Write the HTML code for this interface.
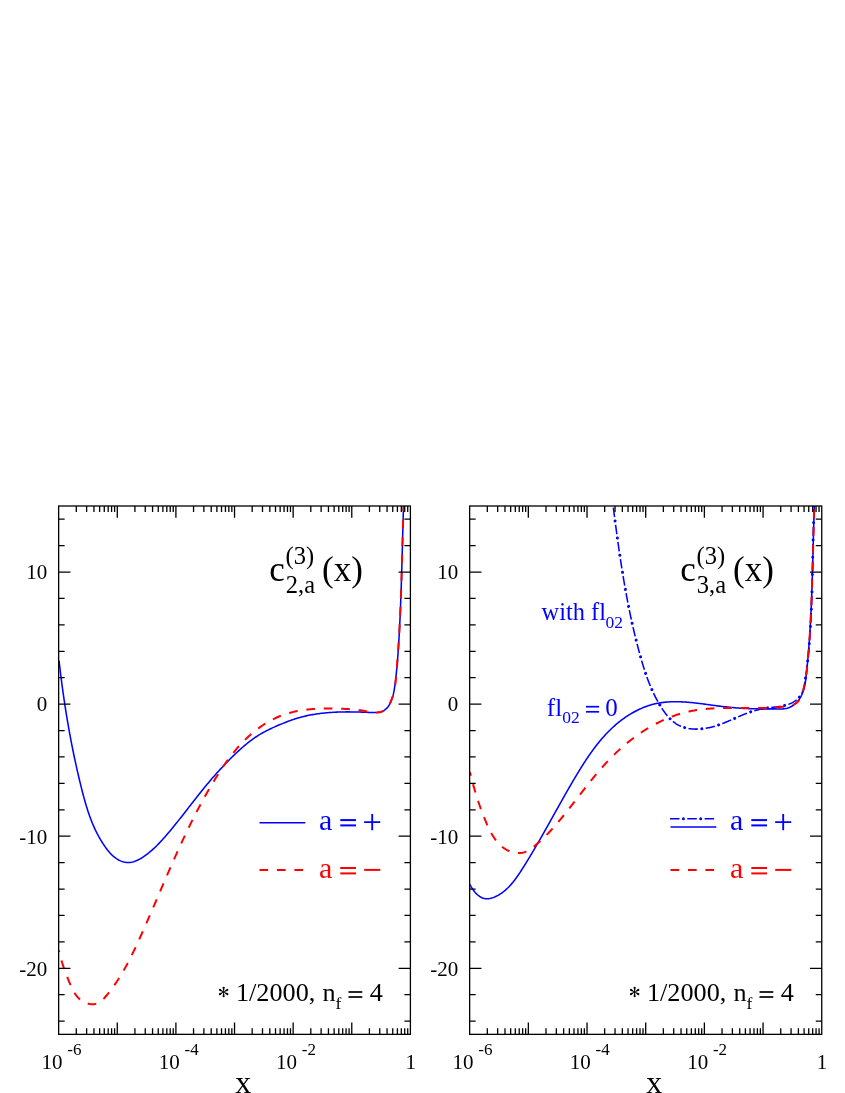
<!DOCTYPE html>
<html><head><meta charset="utf-8"><title>chart</title>
<style>html,body{margin:0;padding:0;background:#fff;}body{width:845px;height:1093px;overflow:hidden;font-family:"Liberation Serif",serif;}svg{display:block;will-change:transform;}</style>
</head><body>
<svg width="845" height="1093" viewBox="0 0 845 1093" font-family="'Liberation Serif', serif" fill="#000"><defs><clipPath id="c1"><rect x="58.65" y="506.0" width="351.75" height="528.35"/></clipPath><clipPath id="c2"><rect x="469.65" y="506.0" width="352.10" height="528.35"/></clipPath></defs><g clip-path="url(#c1)"><path d="M59.07,660.71 L59.21,661.97 L59.35,663.22 L59.50,664.48 L59.64,665.73 L59.79,666.99 L59.94,668.24 L60.09,669.50 L60.24,670.75 L60.39,672.01 L60.54,673.26 L60.70,674.52 L60.85,675.77 L61.01,677.03 L61.17,678.28 L61.33,679.54 L61.49,680.79 L61.65,682.05 L61.82,683.30 L61.98,684.55 L62.15,685.81 L62.32,687.06 L62.49,688.32 L62.66,689.57 L62.84,690.83 L63.01,692.08 L63.19,693.33 L63.37,694.59 L63.55,695.84 L63.73,697.09 L63.91,698.35 L64.09,699.60 L64.28,700.85 L64.47,702.10 L64.65,703.36 L64.84,704.61 L65.04,705.86 L65.23,707.11 L65.42,708.36 L65.62,709.62 L65.82,710.87 L66.02,712.12 L66.22,713.37 L66.42,714.62 L66.63,715.87 L66.83,717.12 L67.04,718.37 L67.25,719.62 L67.46,720.87 L67.67,722.12 L67.89,723.37 L68.10,724.62 L68.32,725.87 L68.54,727.11 L68.76,728.36 L68.98,729.61 L69.20,730.86 L69.43,732.10 L69.66,733.35 L69.89,734.60 L70.12,735.84 L70.35,737.09 L70.58,738.34 L70.82,739.58 L71.05,740.83 L71.29,742.07 L71.53,743.32 L71.78,744.56 L72.02,745.80 L72.27,747.05 L72.52,748.29 L72.76,749.53 L73.02,750.77 L73.27,752.02 L73.52,753.26 L73.78,754.50 L74.04,755.74 L74.30,756.98 L74.56,758.22 L74.82,759.46 L75.09,760.70 L75.36,761.94 L75.63,763.17 L75.90,764.41 L76.17,765.65 L76.44,766.89 L76.72,768.12 L77.00,769.36 L77.28,770.59 L77.56,771.83 L77.84,773.06 L78.13,774.30 L78.42,775.53 L78.71,776.76 L79.00,778.00 L79.29,779.23 L79.59,780.46 L79.88,781.69 L80.18,782.92 L80.48,784.15 L80.78,785.38 L81.09,786.61 L81.40,787.84 L81.70,789.07 L82.01,790.30 L82.33,791.52 L82.64,792.75 L82.96,793.97 L83.28,795.20 L83.61,796.42 L83.94,797.64 L84.27,798.86 L84.61,800.08 L84.95,801.30 L85.30,802.51 L85.65,803.72 L86.01,804.94 L86.37,806.14 L86.74,807.35 L87.12,808.56 L87.50,809.76 L87.89,810.96 L88.29,812.16 L88.69,813.35 L89.10,814.54 L89.52,815.73 L89.95,816.92 L90.38,818.10 L90.83,819.28 L91.28,820.46 L91.74,821.63 L92.21,822.80 L92.70,823.96 L93.19,825.12 L93.69,826.28 L94.20,827.43 L94.73,828.58 L95.26,829.73 L95.81,830.87 L96.36,832.01 L96.93,833.14 L97.52,834.26 L98.11,835.39 L98.72,836.50 L99.34,837.62 L99.97,838.72 L100.62,839.83 L101.28,840.92 L101.95,842.01 L102.64,843.10 L103.35,844.18 L104.07,845.25 L104.80,846.32 L105.55,847.38 L106.32,848.43 L107.10,849.47 L107.91,850.50 L108.73,851.50 L109.57,852.48 L110.44,853.44 L111.33,854.36 L112.24,855.26 L113.18,856.12 L114.14,856.94 L115.13,857.73 L116.15,858.46 L117.20,859.15 L118.28,859.79 L119.39,860.38 L120.53,860.91 L121.69,861.37 L122.88,861.77 L124.08,862.09 L125.29,862.34 L126.51,862.50 L127.73,862.57 L128.94,862.55 L130.15,862.45 L131.36,862.26 L132.56,862.00 L133.75,861.67 L134.93,861.27 L136.11,860.81 L137.27,860.30 L138.43,859.74 L139.57,859.13 L140.70,858.49 L141.81,857.81 L142.91,857.11 L144.00,856.38 L145.06,855.64 L146.11,854.88 L147.15,854.10 L148.16,853.31 L149.17,852.51 L150.16,851.70 L151.13,850.87 L152.09,850.04 L153.04,849.19 L153.98,848.33 L154.90,847.46 L155.81,846.58 L156.72,845.70 L157.61,844.80 L158.50,843.90 L159.37,842.99 L160.24,842.07 L161.10,841.15 L161.96,840.22 L162.80,839.28 L163.65,838.34 L164.48,837.40 L165.32,836.45 L166.15,835.50 L166.97,834.54 L167.79,833.58 L168.61,832.62 L169.42,831.66 L170.24,830.69 L171.04,829.72 L171.85,828.74 L172.65,827.77 L173.45,826.79 L174.25,825.81 L175.04,824.83 L175.84,823.84 L176.63,822.86 L177.41,821.87 L178.20,820.88 L178.98,819.89 L179.77,818.89 L180.55,817.90 L181.33,816.90 L182.11,815.91 L182.89,814.91 L183.66,813.91 L184.44,812.91 L185.22,811.91 L185.99,810.91 L186.77,809.91 L187.54,808.91 L188.32,807.90 L189.09,806.90 L189.87,805.90 L190.65,804.90 L191.42,803.90 L192.20,802.90 L192.98,801.90 L193.76,800.90 L194.54,799.90 L195.32,798.90 L196.10,797.90 L196.89,796.90 L197.67,795.91 L198.46,794.92 L199.25,793.92 L200.04,792.93 L200.84,791.94 L201.63,790.96 L202.43,789.97 L203.24,788.99 L204.04,788.01 L204.85,787.03 L205.65,786.05 L206.46,785.07 L207.28,784.10 L208.09,783.13 L208.91,782.16 L209.73,781.19 L210.56,780.22 L211.38,779.26 L212.21,778.30 L213.05,777.34 L213.88,776.39 L214.72,775.44 L215.56,774.49 L216.40,773.54 L217.25,772.60 L218.10,771.66 L218.95,770.72 L219.80,769.78 L220.66,768.85 L221.52,767.92 L222.39,766.99 L223.25,766.07 L224.12,765.15 L225.00,764.23 L225.88,763.32 L226.76,762.41 L227.64,761.50 L228.53,760.60 L229.42,759.70 L230.31,758.80 L231.21,757.91 L232.11,757.02 L233.01,756.14 L233.92,755.25 L234.83,754.38 L235.74,753.50 L236.66,752.64 L237.59,751.77 L238.51,750.91 L239.45,750.06 L240.38,749.22 L241.33,748.38 L242.28,747.54 L243.23,746.72 L244.19,745.90 L245.16,745.09 L246.13,744.28 L247.11,743.49 L248.09,742.70 L249.08,741.92 L250.08,741.15 L251.09,740.40 L252.11,739.65 L253.13,738.91 L254.16,738.18 L255.20,737.46 L256.25,736.76 L257.30,736.07 L258.37,735.38 L259.44,734.71 L260.53,734.06 L261.62,733.41 L262.73,732.78 L263.84,732.17 L264.96,731.56 L266.09,730.97 L267.23,730.39 L268.38,729.82 L269.53,729.26 L270.68,728.71 L271.84,728.16 L273.00,727.63 L274.17,727.11 L275.33,726.59 L276.50,726.08 L277.67,725.58 L278.84,725.08 L280.01,724.58 L281.18,724.10 L282.34,723.62 L283.51,723.14 L284.67,722.67 L285.84,722.21 L287.01,721.75 L288.18,721.31 L289.35,720.87 L290.52,720.44 L291.70,720.02 L292.88,719.61 L294.07,719.21 L295.26,718.82 L296.45,718.44 L297.65,718.08 L298.86,717.73 L300.07,717.39 L301.29,717.06 L302.52,716.74 L303.75,716.44 L304.98,716.15 L306.22,715.87 L307.46,715.60 L308.71,715.34 L309.96,715.09 L311.22,714.86 L312.48,714.63 L313.74,714.42 L315.00,714.22 L316.27,714.02 L317.53,713.84 L318.80,713.66 L320.07,713.50 L321.35,713.34 L322.62,713.20 L323.89,713.06 L325.16,712.93 L326.44,712.81 L327.71,712.70 L328.98,712.59 L330.25,712.50 L331.51,712.41 L332.78,712.33 L334.04,712.26 L335.31,712.19 L336.57,712.13 L337.82,712.08 L339.07,712.04 L340.33,712.00 L341.58,711.97 L342.82,711.94 L344.07,711.92 L345.32,711.90 L346.56,711.89 L347.81,711.89 L349.06,711.89 L350.31,711.90 L351.56,711.91 L352.81,711.92 L354.07,711.94 L355.33,711.96 L356.59,711.99 L357.85,712.02 L359.12,712.05 L360.40,712.09 L361.68,712.13 L362.96,712.17 L364.25,712.21 L365.55,712.26 L366.85,712.31 L368.16,712.36 L369.48,712.41 L370.80,712.46 L372.11,712.49 L373.43,712.50 L374.73,712.48 L376.01,712.43 L377.27,712.33 L378.51,712.17 L379.71,711.96 L380.88,711.67 L382.01,711.31 L383.09,710.87 L384.12,710.33 L385.10,709.69 L386.02,708.94 L386.88,708.10 L387.68,707.18 L388.43,706.19 L389.13,705.13 L389.77,704.03 L390.37,702.89 L390.91,701.73 L391.41,700.55 L391.87,699.35 L392.28,698.14 L392.66,696.92 L393.00,695.69 L393.31,694.45 L393.59,693.20 L393.85,691.94 L394.09,690.67 L394.30,689.41 L394.50,688.13 L394.68,686.86 L394.86,685.58 L395.03,684.31 L395.19,683.03 L395.35,681.76 L395.50,680.48 L395.65,679.21 L395.80,677.94 L395.94,676.67 L396.08,675.40 L396.22,674.13 L396.35,672.86 L396.48,671.60 L396.61,670.33 L396.73,669.07 L396.85,667.80 L396.97,666.54 L397.08,665.28 L397.19,664.02 L397.30,662.76 L397.41,661.49 L397.51,660.23 L397.61,658.97 L397.71,657.71 L397.81,656.46 L397.90,655.20 L398.00,653.94 L398.09,652.68 L398.17,651.42 L398.26,650.16 L398.35,648.90 L398.43,647.65 L398.51,646.39 L398.59,645.13 L398.67,643.87 L398.74,642.61 L398.82,641.36 L398.89,640.10 L398.97,638.84 L399.04,637.58 L399.11,636.32 L399.18,635.06 L399.25,633.80 L399.32,632.54 L399.38,631.28 L399.45,630.02 L399.52,628.75 L399.58,627.49 L399.64,626.23 L399.70,624.97 L399.77,623.71 L399.83,622.44 L399.89,621.18 L399.95,619.92 L400.00,618.65 L400.06,617.39 L400.12,616.13 L400.17,614.86 L400.23,613.60 L400.28,612.33 L400.33,611.07 L400.39,609.81 L400.44,608.54 L400.49,607.28 L400.54,606.01 L400.59,604.74 L400.64,603.48 L400.69,602.21 L400.74,600.95 L400.78,599.68 L400.83,598.41 L400.88,597.15 L400.92,595.88 L400.97,594.61 L401.01,593.35 L401.05,592.08 L401.10,590.81 L401.14,589.55 L401.18,588.28 L401.22,587.01 L401.26,585.74 L401.31,584.48 L401.35,583.21 L401.39,581.94 L401.43,580.67 L401.46,579.40 L401.50,578.14 L401.54,576.87 L401.58,575.60 L401.62,574.33 L401.65,573.06 L401.69,571.79 L401.73,570.53 L401.77,569.26 L401.80,567.99 L401.84,566.72 L401.87,565.45 L401.91,564.18 L401.94,562.92 L401.98,561.65 L402.01,560.38 L402.05,559.11 L402.08,557.84 L402.12,556.57 L402.15,555.30 L402.19,554.04 L402.22,552.77 L402.26,551.50 L402.29,550.23 L402.32,548.96 L402.36,547.69 L402.39,546.43 L402.43,545.16 L402.46,543.89 L402.49,542.62 L402.53,541.36 L402.56,540.09 L402.60,538.82 L402.63,537.55 L402.67,536.28 L402.70,535.02 L402.73,533.75 L402.77,532.48 L402.80,531.22 L402.84,529.95 L402.87,528.68 L402.91,527.42 L402.95,526.15 L402.98,524.88 L403.02,523.62 L403.05,522.35 L403.09,521.09 L403.13,519.82 L403.16,518.55 L403.20,517.29 L403.24,516.02 L403.28,514.76 L403.32,513.49 L403.36,512.23 L403.40,510.97 L403.43,509.70 L403.47,508.44 L403.52,507.17 L403.56,505.91 L403.60,504.65 L403.64,503.38 L403.68,502.12 L403.72,500.86 L403.77,499.60 L403.81,498.34 L403.86,497.07 L403.90,495.81 L403.95,494.55 L403.99,493.29 L404.04,492.03" stroke="#0000ff" stroke-width="1.55" fill="none"/><path d="M59.00,950.38 L59.26,951.67 L59.53,952.94 L59.81,954.19 L60.11,955.42 L60.41,956.64 L60.73,957.85 L61.05,959.04 L61.39,960.23 L61.73,961.40 L62.08,962.57 L62.45,963.73 L62.82,964.88 L63.20,966.02 L63.59,967.17 L63.99,968.31 L64.40,969.45 L64.82,970.59 L65.24,971.73 L65.67,972.88 L66.11,974.03 L66.55,975.18 L67.00,976.34 L67.46,977.51 L67.92,978.68 L68.39,979.87 L68.87,981.07 L69.36,982.27 L69.85,983.47 L70.36,984.67 L70.89,985.87 L71.43,987.06 L71.99,988.24 L72.57,989.40 L73.17,990.54 L73.80,991.66 L74.45,992.76 L75.13,993.83 L75.85,994.86 L76.59,995.86 L77.37,996.82 L78.19,997.74 L79.05,998.61 L79.94,999.43 L80.88,1000.20 L81.86,1000.92 L82.89,1001.57 L83.97,1002.16 L85.09,1002.68 L86.25,1003.14 L87.45,1003.52 L88.66,1003.82 L89.89,1004.04 L91.13,1004.18 L92.36,1004.23 L93.59,1004.18 L94.80,1004.05 L95.99,1003.81 L97.14,1003.47 L98.25,1003.03 L99.31,1002.48 L100.33,1001.82 L101.30,1001.07 L102.23,1000.25 L103.13,999.37 L104.00,998.44 L104.85,997.47 L105.68,996.49 L106.50,995.51 L107.32,994.52 L108.12,993.53 L108.91,992.53 L109.69,991.52 L110.47,990.52 L111.23,989.51 L111.99,988.49 L112.73,987.47 L113.47,986.45 L114.20,985.42 L114.92,984.38 L115.63,983.35 L116.33,982.31 L117.03,981.27 L117.71,980.22 L118.39,979.17 L119.06,978.11 L119.73,977.06 L120.39,975.99 L121.04,974.93 L121.68,973.86 L122.31,972.79 L122.94,971.72 L123.57,970.64 L124.19,969.56 L124.80,968.48 L125.40,967.39 L126.00,966.30 L126.60,965.21 L127.18,964.12 L127.77,963.02 L128.35,961.92 L128.92,960.82 L129.49,959.72 L130.05,958.61 L130.62,957.51 L131.17,956.40 L131.72,955.29 L132.27,954.17 L132.82,953.06 L133.36,951.94 L133.90,950.82 L134.43,949.70 L134.96,948.58 L135.49,947.45 L136.02,946.33 L136.54,945.20 L137.06,944.07 L137.58,942.94 L138.10,941.81 L138.62,940.68 L139.13,939.55 L139.64,938.42 L140.16,937.28 L140.67,936.15 L141.17,935.01 L141.68,933.87 L142.19,932.74 L142.70,931.60 L143.20,930.46 L143.71,929.32 L144.21,928.18 L144.72,927.04 L145.22,925.90 L145.72,924.76 L146.22,923.62 L146.72,922.47 L147.22,921.33 L147.72,920.19 L148.22,919.04 L148.72,917.90 L149.21,916.75 L149.71,915.61 L150.21,914.46 L150.70,913.32 L151.20,912.17 L151.69,911.02 L152.19,909.88 L152.68,908.73 L153.17,907.58 L153.67,906.44 L154.16,905.29 L154.65,904.14 L155.15,902.99 L155.64,901.85 L156.13,900.70 L156.62,899.55 L157.12,898.40 L157.61,897.25 L158.10,896.11 L158.59,894.96 L159.08,893.81 L159.57,892.66 L160.07,891.51 L160.56,890.37 L161.05,889.22 L161.54,888.07 L162.03,886.92 L162.53,885.78 L163.02,884.63 L163.51,883.48 L164.00,882.34 L164.50,881.19 L164.99,880.05 L165.49,878.90 L165.98,877.75 L166.47,876.61 L166.97,875.47 L167.47,874.32 L167.96,873.18 L168.46,872.03 L168.96,870.89 L169.45,869.75 L169.95,868.60 L170.45,867.46 L170.95,866.32 L171.45,865.18 L171.96,864.04 L172.46,862.90 L172.96,861.76 L173.47,860.62 L173.97,859.48 L174.48,858.34 L174.98,857.20 L175.49,856.06 L176.00,854.93 L176.51,853.79 L177.02,852.66 L177.53,851.52 L178.05,850.39 L178.56,849.25 L179.08,848.12 L179.59,846.99 L180.11,845.85 L180.63,844.72 L181.15,843.59 L181.68,842.46 L182.20,841.33 L182.72,840.20 L183.25,839.08 L183.78,837.95 L184.31,836.82 L184.84,835.70 L185.37,834.57 L185.91,833.45 L186.44,832.33 L186.98,831.20 L187.52,830.08 L188.06,828.96 L188.61,827.84 L189.15,826.72 L189.70,825.61 L190.24,824.49 L190.80,823.37 L191.35,822.26 L191.90,821.15 L192.46,820.03 L193.02,818.92 L193.58,817.81 L194.14,816.70 L194.70,815.59 L195.27,814.48 L195.84,813.38 L196.41,812.27 L196.98,811.17 L197.56,810.06 L198.14,808.96 L198.72,807.86 L199.30,806.76 L199.89,805.66 L200.47,804.56 L201.06,803.47 L201.66,802.37 L202.25,801.28 L202.85,800.18 L203.45,799.09 L204.05,798.00 L204.66,796.91 L205.26,795.82 L205.87,794.74 L206.49,793.65 L207.10,792.57 L207.72,791.49 L208.35,790.40 L208.97,789.33 L209.60,788.25 L210.23,787.17 L210.86,786.09 L211.50,785.02 L212.14,783.95 L212.78,782.88 L213.43,781.81 L214.08,780.74 L214.73,779.67 L215.38,778.61 L216.04,777.54 L216.70,776.48 L217.37,775.42 L218.04,774.37 L218.71,773.31 L219.39,772.26 L220.07,771.21 L220.76,770.16 L221.45,769.12 L222.15,768.08 L222.85,767.05 L223.55,766.01 L224.26,764.98 L224.98,763.96 L225.70,762.94 L226.42,761.92 L227.15,760.91 L227.89,759.90 L228.63,758.89 L229.38,757.90 L230.13,756.90 L230.89,755.91 L231.66,754.93 L232.43,753.95 L233.21,752.98 L233.99,752.01 L234.79,751.05 L235.58,750.09 L236.39,749.14 L237.20,748.20 L238.02,747.26 L238.85,746.33 L239.68,745.40 L240.53,744.49 L241.37,743.58 L242.23,742.67 L243.10,741.78 L243.97,740.89 L244.85,740.01 L245.74,739.14 L246.64,738.27 L247.55,737.42 L248.46,736.57 L249.38,735.73 L250.32,734.90 L251.26,734.07 L252.21,733.26 L253.16,732.46 L254.13,731.66 L255.10,730.88 L256.08,730.11 L257.07,729.35 L258.07,728.59 L259.07,727.85 L260.08,727.13 L261.11,726.41 L262.13,725.71 L263.17,725.01 L264.21,724.33 L265.26,723.67 L266.32,723.01 L267.38,722.37 L268.46,721.75 L269.54,721.13 L270.62,720.54 L271.72,719.95 L272.82,719.38 L273.92,718.83 L275.04,718.29 L276.16,717.77 L277.29,717.26 L278.42,716.77 L279.56,716.29 L280.71,715.83 L281.86,715.39 L283.02,714.97 L284.19,714.56 L285.36,714.17 L286.54,713.79 L287.72,713.44 L288.91,713.09 L290.11,712.76 L291.31,712.45 L292.51,712.15 L293.72,711.87 L294.93,711.59 L296.15,711.34 L297.37,711.09 L298.60,710.86 L299.82,710.65 L301.06,710.44 L302.29,710.25 L303.53,710.07 L304.77,709.90 L306.01,709.74 L307.26,709.59 L308.51,709.46 L309.76,709.33 L311.01,709.22 L312.26,709.11 L313.52,709.02 L314.77,708.93 L316.03,708.85 L317.29,708.78 L318.55,708.72 L319.81,708.67 L321.07,708.63 L322.33,708.59 L323.59,708.56 L324.84,708.54 L326.10,708.52 L327.36,708.51 L328.62,708.51 L329.87,708.51 L331.13,708.52 L332.38,708.53 L333.63,708.55 L334.88,708.57 L336.13,708.60 L337.38,708.63 L338.62,708.66 L339.86,708.70 L341.10,708.74 L342.33,708.78 L343.56,708.83 L344.79,708.88 L346.02,708.93 L347.24,708.99 L348.47,709.06 L349.69,709.14 L350.91,709.22 L352.13,709.32 L353.35,709.42 L354.57,709.54 L355.80,709.67 L357.02,709.82 L358.25,709.98 L359.48,710.16 L360.71,710.35 L361.95,710.57 L363.19,710.80 L364.43,711.05 L365.68,711.30 L366.93,711.56 L368.18,711.80 L369.44,712.03 L370.70,712.23 L371.96,712.40 L373.22,712.53 L374.49,712.62 L375.76,712.64 L377.04,712.61 L378.31,712.50 L379.57,712.31 L380.80,712.03 L381.99,711.65 L383.12,711.17 L384.17,710.58 L385.14,709.87 L386.02,709.03 L386.80,708.10 L387.53,707.10 L388.20,706.06 L388.84,705.01 L389.44,703.94 L390.00,702.85 L390.54,701.75 L391.03,700.64 L391.50,699.51 L391.94,698.37 L392.35,697.22 L392.74,696.06 L393.09,694.88 L393.43,693.70 L393.73,692.50 L394.02,691.30 L394.29,690.09 L394.53,688.87 L394.76,687.64" stroke="#ff0000" stroke-width="2" fill="none" stroke-dasharray="8.7 8.75" stroke-dashoffset="7.0"/><path d="M394.76,687.64 L394.97,686.41 L395.16,685.17 L395.34,683.93 L395.51,682.68 L395.66,681.43 L395.80,680.17 L395.94,678.91 L396.06,677.65 L396.18,676.39 L396.29,675.13 L396.40,673.86 L396.50,672.60 L396.60,671.33 L396.70,670.07 L396.80,668.81 L396.90,667.55 L396.99,666.30 L397.09,665.04 L397.18,663.79 L397.28,662.53 L397.37,661.28 L397.46,660.03 L397.55,658.78 L397.64,657.53 L397.73,656.28 L397.82,655.03 L397.91,653.79 L397.99,652.54 L398.08,651.30 L398.16,650.05 L398.25,648.81 L398.33,647.57 L398.41,646.32 L398.49,645.08 L398.57,643.84 L398.65,642.60 L398.73,641.36 L398.81,640.12 L398.88,638.88 L398.96,637.65 L399.03,636.41 L399.10,635.17 L399.18,633.93 L399.25,632.69 L399.32,631.46 L399.39,630.22 L399.45,628.98 L399.52,627.75 L399.59,626.51 L399.65,625.27 L399.72,624.03 L399.78,622.80 L399.84,621.56 L399.91,620.32 L399.97,619.08 L400.03,617.84 L400.09,616.60 L400.14,615.36 L400.20,614.12 L400.26,612.88 L400.31,611.64 L400.37,610.40 L400.42,609.16 L400.47,607.92 L400.53,606.68 L400.58,605.43 L400.63,604.19 L400.68,602.95 L400.73,601.71 L400.77,600.46 L400.82,599.22 L400.87,597.97 L400.91,596.73 L400.96,595.48 L401.00,594.24 L401.05,592.99 L401.09,591.75 L401.13,590.50 L401.18,589.26 L401.22,588.01 L401.26,586.76 L401.30,585.52 L401.34,584.27 L401.38,583.02 L401.42,581.77 L401.46,580.53 L401.49,579.28 L401.53,578.03 L401.57,576.78 L401.61,575.54 L401.64,574.29 L401.68,573.04 L401.71,571.79 L401.75,570.54 L401.78,569.29 L401.82,568.04 L401.85,566.80 L401.89,565.55 L401.92,564.30 L401.96,563.05 L401.99,561.80 L402.02,560.55 L402.06,559.30 L402.09,558.05 L402.12,556.80 L402.16,555.55 L402.19,554.30 L402.22,553.05 L402.25,551.81 L402.29,550.56 L402.32,549.31 L402.35,548.06 L402.38,546.81 L402.42,545.56 L402.45,544.31 L402.48,543.06 L402.51,541.81 L402.54,540.57 L402.58,539.32 L402.61,538.07 L402.64,536.82 L402.68,535.57 L402.71,534.32 L402.74,533.08 L402.78,531.83 L402.81,530.58 L402.84,529.33 L402.88,528.09 L402.91,526.84 L402.95,525.59 L402.98,524.35 L403.02,523.10 L403.05,521.85 L403.09,520.61 L403.13,519.36 L403.16,518.12 L403.20,516.87 L403.24,515.63 L403.27,514.38 L403.31,513.14 L403.35,511.89 L403.39,510.65 L403.43,509.41 L403.47,508.16 L403.51,506.92 L403.55,505.68 L403.60,504.44 L403.64,503.19 L403.68,501.95 L403.72,500.71 L403.77,499.47 L403.81,498.23 L403.86,496.99 L403.91,495.75 L403.95,494.51 L404.00,493.27 L404.05,492.03" stroke="#ff0000" stroke-width="2" fill="none" stroke-dasharray="8.7 8.75" stroke-dashoffset="15.04"/></g><rect x="58.65" y="506.0" width="351.75" height="528.35" fill="none" stroke="#000" stroke-width="1.3"/><path d="M76.30,506.0 v6.0 M76.30,1034.35 v-6.0 M86.62,506.0 v6.0 M86.62,1034.35 v-6.0 M93.95,506.0 v6.0 M93.95,1034.35 v-6.0 M99.63,506.0 v6.0 M99.63,1034.35 v-6.0 M104.27,506.0 v6.0 M104.27,1034.35 v-6.0 M108.19,506.0 v6.0 M108.19,1034.35 v-6.0 M111.59,506.0 v6.0 M111.59,1034.35 v-6.0 M114.59,506.0 v6.0 M114.59,1034.35 v-6.0 M117.28,506.0 v11.8 M117.28,1034.35 v-11.8 M134.92,506.0 v6.0 M134.92,1034.35 v-6.0 M145.25,506.0 v6.0 M145.25,1034.35 v-6.0 M152.57,506.0 v6.0 M152.57,1034.35 v-6.0 M158.25,506.0 v6.0 M158.25,1034.35 v-6.0 M162.89,506.0 v6.0 M162.89,1034.35 v-6.0 M166.82,506.0 v6.0 M166.82,1034.35 v-6.0 M170.22,506.0 v6.0 M170.22,1034.35 v-6.0 M173.22,506.0 v6.0 M173.22,1034.35 v-6.0 M175.90,506.0 v11.8 M175.90,1034.35 v-11.8 M193.55,506.0 v6.0 M193.55,1034.35 v-6.0 M203.87,506.0 v6.0 M203.87,1034.35 v-6.0 M211.20,506.0 v6.0 M211.20,1034.35 v-6.0 M216.88,506.0 v6.0 M216.88,1034.35 v-6.0 M221.52,506.0 v6.0 M221.52,1034.35 v-6.0 M225.44,506.0 v6.0 M225.44,1034.35 v-6.0 M228.84,506.0 v6.0 M228.84,1034.35 v-6.0 M231.84,506.0 v6.0 M231.84,1034.35 v-6.0 M234.53,506.0 v11.8 M234.53,1034.35 v-11.8 M252.17,506.0 v6.0 M252.17,1034.35 v-6.0 M262.50,506.0 v6.0 M262.50,1034.35 v-6.0 M269.82,506.0 v6.0 M269.82,1034.35 v-6.0 M275.50,506.0 v6.0 M275.50,1034.35 v-6.0 M280.14,506.0 v6.0 M280.14,1034.35 v-6.0 M284.07,506.0 v6.0 M284.07,1034.35 v-6.0 M287.47,506.0 v6.0 M287.47,1034.35 v-6.0 M290.47,506.0 v6.0 M290.47,1034.35 v-6.0 M293.15,506.0 v11.8 M293.15,1034.35 v-11.8 M310.80,506.0 v6.0 M310.80,1034.35 v-6.0 M321.12,506.0 v6.0 M321.12,1034.35 v-6.0 M328.45,506.0 v6.0 M328.45,1034.35 v-6.0 M334.13,506.0 v6.0 M334.13,1034.35 v-6.0 M338.77,506.0 v6.0 M338.77,1034.35 v-6.0 M342.69,506.0 v6.0 M342.69,1034.35 v-6.0 M346.09,506.0 v6.0 M346.09,1034.35 v-6.0 M349.09,506.0 v6.0 M349.09,1034.35 v-6.0 M351.77,506.0 v11.8 M351.77,1034.35 v-11.8 M369.42,506.0 v6.0 M369.42,1034.35 v-6.0 M379.75,506.0 v6.0 M379.75,1034.35 v-6.0 M387.07,506.0 v6.0 M387.07,1034.35 v-6.0 M392.75,506.0 v6.0 M392.75,1034.35 v-6.0 M397.39,506.0 v6.0 M397.39,1034.35 v-6.0 M401.32,506.0 v6.0 M401.32,1034.35 v-6.0 M404.72,506.0 v6.0 M404.72,1034.35 v-6.0 M407.72,506.0 v6.0 M407.72,1034.35 v-6.0 M58.65,1021.14 h6.0 M410.4,1021.14 h-6.0 M58.65,994.72 h6.0 M410.4,994.72 h-6.0 M58.65,968.31 h11.8 M410.4,968.31 h-11.8 M58.65,941.89 h6.0 M410.4,941.89 h-6.0 M58.65,915.47 h6.0 M410.4,915.47 h-6.0 M58.65,889.05 h6.0 M410.4,889.05 h-6.0 M58.65,862.64 h6.0 M410.4,862.64 h-6.0 M58.65,836.22 h11.8 M410.4,836.22 h-11.8 M58.65,809.80 h6.0 M410.4,809.80 h-6.0 M58.65,783.38 h6.0 M410.4,783.38 h-6.0 M58.65,756.97 h6.0 M410.4,756.97 h-6.0 M58.65,730.55 h6.0 M410.4,730.55 h-6.0 M58.65,704.13 h11.8 M410.4,704.13 h-11.8 M58.65,677.71 h6.0 M410.4,677.71 h-6.0 M58.65,651.30 h6.0 M410.4,651.30 h-6.0 M58.65,624.88 h6.0 M410.4,624.88 h-6.0 M58.65,598.46 h6.0 M410.4,598.46 h-6.0 M58.65,572.04 h11.8 M410.4,572.04 h-11.8 M58.65,545.63 h6.0 M410.4,545.63 h-6.0 M58.65,519.21 h6.0 M410.4,519.21 h-6.0" fill="none" stroke="#000" stroke-width="1.3"/><text x="26.15" y="579.39" font-size="21">10</text><text x="36.65" y="711.48" font-size="21">0</text><text x="19.16" y="843.57" font-size="21">-10</text><text x="19.16" y="975.66" font-size="21">-20</text><text x="41.40" y="1068.60" font-size="21">10</text><text x="67.22" y="1055.40" font-size="17">-6</text><text x="158.65" y="1068.60" font-size="21">10</text><text x="184.47" y="1055.40" font-size="17">-4</text><text x="275.90" y="1068.60" font-size="21">10</text><text x="301.72" y="1055.40" font-size="17">-2</text><text x="405.46" y="1068.60" font-size="21">1</text><text x="269.3" y="581.1" font-size="35">c</text><text x="285.5" y="563.7" font-size="24.5">(3)</text><text x="285.8" y="592.5" font-size="24.5">2,a</text><text x="322.0" y="581.1" font-size="35">(x)</text><g transform="translate(223.65,992.00)" fill="#000"><circle r="0.9"/><g transform="rotate(0)"><path d="M-0.3,-0.6 L-1.05,-4.50 A1.1,1.1 0 0 1 1.05,-4.50 L0.3,-0.6 Z"/></g><g transform="rotate(60)"><path d="M-0.3,-0.6 L-1.05,-4.50 A1.1,1.1 0 0 1 1.05,-4.50 L0.3,-0.6 Z"/></g><g transform="rotate(120)"><path d="M-0.3,-0.6 L-1.05,-4.50 A1.1,1.1 0 0 1 1.05,-4.50 L0.3,-0.6 Z"/></g><g transform="rotate(180)"><path d="M-0.3,-0.6 L-1.05,-4.50 A1.1,1.1 0 0 1 1.05,-4.50 L0.3,-0.6 Z"/></g><g transform="rotate(240)"><path d="M-0.3,-0.6 L-1.05,-4.50 A1.1,1.1 0 0 1 1.05,-4.50 L0.3,-0.6 Z"/></g><g transform="rotate(300)"><path d="M-0.3,-0.6 L-1.05,-4.50 A1.1,1.1 0 0 1 1.05,-4.50 L0.3,-0.6 Z"/></g></g><text x="236.00" y="1000.90" font-size="26.2">1/2000,</text><text x="322.60" y="1000.90" font-size="26.2">n</text><text x="335.46" y="1009.30" font-size="17.5">f</text><path d="M348.50,992.00 H362.30" stroke="#000" stroke-width="1.7" fill="none"/><path d="M348.50,997.00 H362.30" stroke="#000" stroke-width="1.7" fill="none"/><text x="369.69" y="1000.90" font-size="26.2">4</text><text x="235.35" y="1092.60" font-size="32">x</text><path d="M259.5,822.8 H305.3" stroke="#0000ff" stroke-width="1.55" fill="none"/><path d="M259.5,870.1 H305.3" stroke="#ff0000" stroke-width="2" fill="none" stroke-dasharray="8.7 8.75"/><text x="319.05" y="829.80" font-size="30" fill="#0000ff">a</text><path d="M340.30,820.10 H356.00" stroke="#0000ff" stroke-width="2.0" fill="none"/><path d="M340.30,825.40 H356.00" stroke="#0000ff" stroke-width="2.0" fill="none"/><path d="M364.15,822.10 H380.25 M372.20,814.05 V830.15" stroke="#0000ff" stroke-width="1.85" fill="none"/><text x="319.05" y="877.70" font-size="30" fill="#ff0000">a</text><path d="M340.30,868.00 H356.00" stroke="#ff0000" stroke-width="2.0" fill="none"/><path d="M340.30,873.40 H356.00" stroke="#ff0000" stroke-width="2.0" fill="none"/><path d="M364.20,869.90 H380.30" stroke="#ff0000" stroke-width="2.0" fill="none"/><g clip-path="url(#c2)"><path d="M470.00,884.27 L470.34,885.07 L470.75,885.92 L471.21,886.81 L471.74,887.73 L472.33,888.67 L472.97,889.62 L473.66,890.58 L474.40,891.52 L475.17,892.45 L475.99,893.34 L476.84,894.20 L477.73,895.00 L478.64,895.75 L479.58,896.43 L480.53,897.03 L481.51,897.55 L482.49,897.96 L483.49,898.28 L484.50,898.52 L485.51,898.66 L486.53,898.73 L487.56,898.72 L488.58,898.65 L489.61,898.50 L490.63,898.30 L491.65,898.04 L492.66,897.73 L493.67,897.37 L494.66,896.97 L495.64,896.54 L496.61,896.07 L497.56,895.57 L498.49,895.06 L499.41,894.51 L500.31,893.95 L501.19,893.37 L502.06,892.76 L502.91,892.14 L503.74,891.49 L504.56,890.83 L505.37,890.15 L506.16,889.45 L506.94,888.74 L507.71,888.01 L508.46,887.26 L509.21,886.50 L509.94,885.72 L510.66,884.93 L511.36,884.13 L512.06,883.31 L512.75,882.49 L513.43,881.65 L514.10,880.80 L514.76,879.94 L515.41,879.08 L516.06,878.20 L516.69,877.32 L517.32,876.43 L517.95,875.53 L518.57,874.63 L519.18,873.72 L519.78,872.80 L520.39,871.89 L520.98,870.97 L521.58,870.04 L522.17,869.12 L522.76,868.19 L523.34,867.26 L523.92,866.33 L524.50,865.41 L525.08,864.48 L525.66,863.55 L526.23,862.62 L526.80,861.69 L527.37,860.76 L527.94,859.83 L528.51,858.90 L529.07,857.97 L529.64,857.04 L530.20,856.11 L530.76,855.18 L531.31,854.25 L531.87,853.32 L532.42,852.39 L532.98,851.46 L533.53,850.52 L534.08,849.59 L534.62,848.66 L535.17,847.73 L535.71,846.80 L536.26,845.86 L536.80,844.93 L537.34,844.00 L537.88,843.07 L538.42,842.13 L538.96,841.20 L539.50,840.27 L540.03,839.33 L540.56,838.40 L541.10,837.47 L541.63,836.53 L542.16,835.60 L542.69,834.67 L543.22,833.73 L543.75,832.80 L544.28,831.86 L544.81,830.93 L545.33,830.00 L545.86,829.06 L546.39,828.13 L546.91,827.19 L547.44,826.26 L547.96,825.32 L548.48,824.39 L549.01,823.45 L549.53,822.52 L550.05,821.58 L550.57,820.65 L551.10,819.71 L551.62,818.78 L552.14,817.85 L552.66,816.91 L553.18,815.98 L553.70,815.04 L554.23,814.11 L554.75,813.17 L555.27,812.24 L555.79,811.30 L556.31,810.37 L556.83,809.43 L557.36,808.50 L557.88,807.56 L558.40,806.63 L558.92,805.69 L559.45,804.76 L559.97,803.82 L560.50,802.89 L561.02,801.95 L561.55,801.02 L562.07,800.08 L562.60,799.15 L563.13,798.21 L563.66,797.28 L564.18,796.34 L564.71,795.41 L565.24,794.48 L565.78,793.54 L566.31,792.61 L566.84,791.67 L567.37,790.74 L567.91,789.81 L568.45,788.87 L568.98,787.94 L569.52,787.01 L570.06,786.07 L570.60,785.14 L571.14,784.21 L571.69,783.27 L572.23,782.34 L572.78,781.41 L573.33,780.47 L573.88,779.54 L574.43,778.61 L574.98,777.68 L575.53,776.75 L576.09,775.82 L576.64,774.88 L577.20,773.95 L577.76,773.03 L578.33,772.10 L578.89,771.17 L579.46,770.24 L580.03,769.32 L580.60,768.39 L581.18,767.47 L581.75,766.55 L582.33,765.63 L582.92,764.71 L583.50,763.80 L584.09,762.89 L584.68,761.97 L585.27,761.07 L585.87,760.16 L586.47,759.25 L587.07,758.35 L587.68,757.45 L588.29,756.56 L588.90,755.66 L589.52,754.77 L590.14,753.88 L590.76,753.00 L591.39,752.12 L592.02,751.24 L592.66,750.37 L593.30,749.50 L593.94,748.63 L594.59,747.77 L595.24,746.91 L595.90,746.05 L596.56,745.20 L597.22,744.35 L597.89,743.51 L598.57,742.68 L599.25,741.84 L599.93,741.01 L600.62,740.19 L601.31,739.37 L602.01,738.56 L602.72,737.75 L603.43,736.95 L604.14,736.15 L604.86,735.36 L605.59,734.57 L606.32,733.79 L607.05,733.02 L607.80,732.25 L608.54,731.48 L609.30,730.73 L610.06,729.98 L610.82,729.23 L611.59,728.50 L612.37,727.77 L613.16,727.04 L613.95,726.32 L614.74,725.61 L615.55,724.91 L616.36,724.21 L617.17,723.52 L617.99,722.84 L618.82,722.17 L619.66,721.50 L620.50,720.84 L621.35,720.19 L622.21,719.55 L623.08,718.91 L623.95,718.29 L624.83,717.67 L625.72,717.06 L626.61,716.46 L627.51,715.86 L628.42,715.28 L629.34,714.70 L630.26,714.14 L631.19,713.58 L632.13,713.03 L633.08,712.49 L634.03,711.97 L634.99,711.45 L635.95,710.95 L636.92,710.45 L637.90,709.97 L638.88,709.50 L639.87,709.04 L640.87,708.59 L641.87,708.16 L642.87,707.74 L643.88,707.33 L644.89,706.93 L645.91,706.55 L646.93,706.18 L647.96,705.83 L648.99,705.49 L650.02,705.17 L651.06,704.86 L652.10,704.57 L653.14,704.29 L654.19,704.03 L655.24,703.78 L656.29,703.56 L657.34,703.34 L658.40,703.14 L659.46,702.96 L660.52,702.79 L661.58,702.63 L662.65,702.49 L663.72,702.36 L664.78,702.24 L665.85,702.14 L666.92,702.05 L668.00,701.97 L669.07,701.90 L670.14,701.85 L671.22,701.80 L672.29,701.77 L673.37,701.74 L674.44,701.73 L675.52,701.73 L676.59,701.73 L677.67,701.74 L678.75,701.77 L679.82,701.80 L680.90,701.84 L681.97,701.88 L683.04,701.94 L684.12,702.00 L685.19,702.07 L686.26,702.14 L687.33,702.22 L688.40,702.31 L689.48,702.40 L690.55,702.50 L691.62,702.60 L692.69,702.71 L693.76,702.82 L694.83,702.94 L695.90,703.06 L696.96,703.18 L698.03,703.31 L699.10,703.44 L700.17,703.57 L701.24,703.71 L702.31,703.85 L703.38,703.99 L704.45,704.13 L705.52,704.27 L706.59,704.42 L707.66,704.56 L708.73,704.71 L709.80,704.85 L710.86,705.00 L711.93,705.15 L713.01,705.29 L714.08,705.44 L715.15,705.58 L716.22,705.72 L717.29,705.86 L718.36,706.00 L719.43,706.14 L720.51,706.27 L721.58,706.40 L722.65,706.53 L723.73,706.65 L724.80,706.77 L725.88,706.89 L726.95,707.01 L728.03,707.12 L729.10,707.23 L730.18,707.34 L731.25,707.44 L732.33,707.54 L733.40,707.64 L734.48,707.73 L735.55,707.82 L736.63,707.91 L737.70,707.99 L738.78,708.07 L739.85,708.15 L740.93,708.22 L742.00,708.29 L743.07,708.36 L744.15,708.42 L745.22,708.48 L746.29,708.53 L747.36,708.58 L748.44,708.62 L749.51,708.67 L750.58,708.70 L751.64,708.74 L752.71,708.77 L753.78,708.79 L754.85,708.81 L755.91,708.83 L756.98,708.84 L758.05,708.85 L759.11,708.86 L760.18,708.86 L761.25,708.87 L762.32,708.87 L763.39,708.87 L764.46,708.87 L765.54,708.87 L766.62,708.86 L767.69,708.86 L768.78,708.86 L769.86,708.86 L770.95,708.86 L772.04,708.86 L773.14,708.87 L774.24,708.88 L775.35,708.89 L776.46,708.90 L777.57,708.92 L778.69,708.93 L779.81,708.95 L780.93,708.94 L782.04,708.92 L783.14,708.86 L784.24,708.76 L785.31,708.61 L786.37,708.41 L787.40,708.14 L788.41,707.82 L789.40,707.44 L790.36,707.01 L791.30,706.53 L792.21,706.00 L793.10,705.43 L793.96,704.81 L794.78,704.15 L795.58,703.46 L796.35,702.73 L797.08,701.97 L797.78,701.18 L798.45,700.36 L799.08,699.51 L799.67,698.65 L800.23,697.76 L800.76,696.86 L801.25,695.94 L801.71,695.00 L802.14,694.04 L802.54,693.07 L802.91,692.08 L803.25,691.08 L803.58,690.07 L803.87,689.04 L804.15,688.01 L804.40,686.96 L804.64,685.91 L804.86,684.84 L805.06,683.77 L805.25,682.69 L805.42,681.61 L805.58,680.52 L805.73,679.43 L805.88,678.33 L806.01,677.24 L806.14,676.14 L806.26,675.04 L806.39,673.94 L806.50,672.84 L806.62,671.74 L806.74,670.65 L806.85,669.56 L806.96,668.46 L807.07,667.37 L807.18,666.29 L807.29,665.20 L807.39,664.11 L807.50,663.02 L807.60,661.94 L807.70,660.86 L807.80,659.77 L807.90,658.69 L807.99,657.61 L808.09,656.53 L808.18,655.46 L808.28,654.38 L808.37,653.30 L808.46,652.23 L808.55,651.15 L808.63,650.08 L808.72,649.00 L808.80,647.93 L808.89,646.86 L808.97,645.79 L809.05,644.72 L809.13,643.65 L809.21,642.58 L809.28,641.51 L809.36,640.44 L809.43,639.37 L809.51,638.30 L809.58,637.23 L809.65,636.17 L809.72,635.10 L809.79,634.03 L809.86,632.96 L809.92,631.90 L809.99,630.83 L810.05,629.76 L810.12,628.70 L810.18,627.63 L810.24,626.56 L810.30,625.50 L810.36,624.43 L810.42,623.36 L810.48,622.29 L810.54,621.23 L810.60,620.16 L810.65,619.09 L810.71,618.02 L810.76,616.95 L810.81,615.88 L810.87,614.81 L810.92,613.74 L810.97,612.67 L811.02,611.60 L811.07,610.53 L811.12,609.46 L811.17,608.39 L811.21,607.31 L811.26,606.24 L811.31,605.17 L811.35,604.09 L811.40,603.02 L811.44,601.95 L811.48,600.87 L811.53,599.80 L811.57,598.72 L811.61,597.65 L811.65,596.57 L811.69,595.50 L811.73,594.42 L811.77,593.34 L811.81,592.27 L811.85,591.19 L811.89,590.11 L811.93,589.04 L811.96,587.96 L812.00,586.88 L812.04,585.80 L812.07,584.72 L812.11,583.65 L812.14,582.57 L812.18,581.49 L812.21,580.41 L812.25,579.33 L812.28,578.25 L812.31,577.17 L812.34,576.09 L812.38,575.01 L812.41,573.93 L812.44,572.85 L812.47,571.77 L812.50,570.69 L812.53,569.61 L812.57,568.53 L812.60,567.45 L812.63,566.37 L812.66,565.29 L812.69,564.21 L812.72,563.13 L812.74,562.05 L812.77,560.97 L812.80,559.89 L812.83,558.81 L812.86,557.72 L812.89,556.64 L812.92,555.56 L812.95,554.48 L812.98,553.40 L813.00,552.32 L813.03,551.24 L813.06,550.16 L813.09,549.08 L813.12,548.00 L813.14,546.92 L813.17,545.84 L813.20,544.76 L813.23,543.68 L813.26,542.59 L813.29,541.51 L813.31,540.43 L813.34,539.35 L813.37,538.27 L813.40,537.19 L813.43,536.11 L813.46,535.04 L813.49,533.96 L813.51,532.88 L813.54,531.80 L813.57,530.72 L813.60,529.64 L813.63,528.56 L813.66,527.48 L813.69,526.40 L813.72,525.33 L813.75,524.25 L813.78,523.17 L813.82,522.09 L813.85,521.02 L813.88,519.94 L813.91,518.86 L813.94,517.79 L813.98,516.71 L814.01,515.63 L814.04,514.56 L814.08,513.48 L814.11,512.41 L814.15,511.33 L814.18,510.26 L814.22,509.18 L814.25,508.11 L814.29,507.04 L814.32,505.96 L814.36,504.89 L814.40,503.82 L814.44,502.75 L814.48,501.67 L814.51,500.60 L814.55,499.53 L814.59,498.46 L814.63,497.39 L814.68,496.32 L814.72,495.25 L814.76,494.18 L814.80,493.11 L814.85,492.05" stroke="#0000ff" stroke-width="1.55" fill="none"/><path d="M611.39,492.08 L611.51,493.03 L611.63,493.99 L611.75,494.95 L611.87,495.90 L611.99,496.86 L612.11,497.82 L612.23,498.78 L612.35,499.74 L612.47,500.69 L612.59,501.65 L612.72,502.61 L612.84,503.57 L612.96,504.53 L613.08,505.49 L613.20,506.45 L613.32,507.41 L613.45,508.37 L613.57,509.33 L613.69,510.29 L613.81,511.25 L613.94,512.21 L614.06,513.17 L614.18,514.13 L614.31,515.09 L614.43,516.05 L614.56,517.02 L614.68,517.98 L614.81,518.94 L614.93,519.90 L615.06,520.86 L615.18,521.82 L615.31,522.79 L615.44,523.75 L615.57,524.71 L615.69,525.67 L615.82,526.64 L615.95,527.60 L616.08,528.56 L616.21,529.52 L616.34,530.49 L616.47,531.45 L616.60,532.41 L616.73,533.37 L616.86,534.34 L616.99,535.30 L617.12,536.26 L617.25,537.23 L617.39,538.19 L617.52,539.15 L617.65,540.12 L617.79,541.08 L617.92,542.04 L618.06,543.00 L618.19,543.97 L618.33,544.93 L618.47,545.89 L618.61,546.86 L618.74,547.82 L618.88,548.78 L619.02,549.75 L619.16,550.71 L619.30,551.67 L619.44,552.64 L619.59,553.60 L619.73,554.56 L619.87,555.52 L620.01,556.49 L620.16,557.45 L620.30,558.41 L620.45,559.37 L620.60,560.34 L620.74,561.30 L620.89,562.26 L621.04,563.22 L621.19,564.19 L621.34,565.15 L621.49,566.11 L621.64,567.07 L621.79,568.03 L621.94,569.00 L622.10,569.96 L622.25,570.92 L622.41,571.88 L622.56,572.84 L622.72,573.80 L622.88,574.76 L623.03,575.72 L623.19,576.68 L623.35,577.64 L623.51,578.60 L623.68,579.56 L623.84,580.52 L624.00,581.48 L624.17,582.44 L624.33,583.40 L624.50,584.36 L624.66,585.32 L624.83,586.28 L625.00,587.23 L625.17,588.19 L625.34,589.15 L625.51,590.11 L625.68,591.07 L625.86,592.02 L626.03,592.98 L626.21,593.94 L626.38,594.89 L626.56,595.85 L626.74,596.81 L626.92,597.76 L627.10,598.72 L627.28,599.67 L627.46,600.63 L627.65,601.58 L627.83,602.54 L628.02,603.49 L628.21,604.44 L628.39,605.40 L628.58,606.35 L628.77,607.30 L628.96,608.26 L629.16,609.21 L629.35,610.16 L629.54,611.11 L629.74,612.06 L629.94,613.01 L630.13,613.96 L630.33,614.91 L630.53,615.86 L630.74,616.81 L630.94,617.76 L631.14,618.71 L631.35,619.66 L631.55,620.61 L631.76,621.55 L631.97,622.50 L632.18,623.45 L632.39,624.40 L632.61,625.34 L632.82,626.29 L633.03,627.23 L633.25,628.18 L633.47,629.12 L633.69,630.07 L633.91,631.01 L634.13,631.95 L634.35,632.89 L634.58,633.84 L634.80,634.78 L635.03,635.72 L635.26,636.66 L635.49,637.60 L635.72,638.54 L635.96,639.48 L636.19,640.42 L636.43,641.36 L636.66,642.30 L636.90,643.23 L637.14,644.17 L637.38,645.11 L637.63,646.04 L637.87,646.98 L638.12,647.91 L638.36,648.85 L638.61,649.78 L638.86,650.72 L639.11,651.65 L639.37,652.58 L639.62,653.51 L639.88,654.44 L640.14,655.37 L640.40,656.30 L640.66,657.23 L640.92,658.16 L641.19,659.09 L641.45,660.02 L641.72,660.95 L641.99,661.87 L642.27,662.80 L642.54,663.72 L642.82,664.65 L643.10,665.57 L643.39,666.49 L643.67,667.42 L643.96,668.34 L644.26,669.26 L644.55,670.18 L644.85,671.09 L645.16,672.01 L645.46,672.93 L645.77,673.84 L646.09,674.76 L646.41,675.67 L646.73,676.58 L647.05,677.49 L647.39,678.40 L647.72,679.31 L648.06,680.22 L648.40,681.12 L648.75,682.03 L649.11,682.93 L649.47,683.84 L649.83,684.74 L650.20,685.64 L650.57,686.54 L650.95,687.43 L651.34,688.33 L651.73,689.22 L652.13,690.12 L652.53,691.01 L652.94,691.90 L653.35,692.79 L653.77,693.67 L654.20,694.56 L654.64,695.44 L655.08,696.33 L655.52,697.21 L655.98,698.08 L656.44,698.96 L656.91,699.84 L657.38,700.71 L657.86,701.58 L658.35,702.45 L658.85,703.32 L659.35,704.19 L659.87,705.05 L660.39,705.92 L660.91,706.78 L661.45,707.63 L662.00,708.48 L662.55,709.32 L663.11,710.16 L663.68,710.99 L664.27,711.80 L664.86,712.61 L665.46,713.41 L666.07,714.20 L666.69,714.97 L667.32,715.74 L667.96,716.48 L668.61,717.22 L669.27,717.93 L669.95,718.63 L670.63,719.32 L671.33,719.98 L672.03,720.63 L672.75,721.25 L673.49,721.85 L674.23,722.44 L674.99,722.99 L675.76,723.53 L676.54,724.04 L677.33,724.52 L678.14,724.98 L678.96,725.42 L679.80,725.82 L680.64,726.20 L681.50,726.56 L682.37,726.89 L683.25,727.19 L684.13,727.47 L685.03,727.73 L685.94,727.96 L686.86,728.18 L687.78,728.36 L688.71,728.53 L689.65,728.68 L690.60,728.80 L691.55,728.90 L692.50,728.98 L693.47,729.05 L694.43,729.09 L695.40,729.11 L696.38,729.12 L697.35,729.10 L698.33,729.07 L699.31,729.02 L700.29,728.96 L701.28,728.87 L702.26,728.77 L703.24,728.66 L704.23,728.52 L705.21,728.38 L706.19,728.22 L707.17,728.04 L708.14,727.85 L709.12,727.65 L710.08,727.43 L711.05,727.20 L712.01,726.96 L712.96,726.71 L713.91,726.44 L714.86,726.17 L715.80,725.88 L716.74,725.58 L717.67,725.28 L718.60,724.96 L719.52,724.64 L720.44,724.31 L721.36,723.97 L722.27,723.62 L723.18,723.27 L724.09,722.91 L724.99,722.55 L725.89,722.18 L726.79,721.81 L727.69,721.43 L728.58,721.05 L729.48,720.66 L730.37,720.28 L731.26,719.89 L732.15,719.50 L733.04,719.11 L733.93,718.71 L734.81,718.32 L735.70,717.93 L736.58,717.54 L737.47,717.15 L738.36,716.76 L739.24,716.38 L740.13,715.99 L741.02,715.61 L741.90,715.24 L742.79,714.87 L743.68,714.50 L744.57,714.14 L745.47,713.78 L746.36,713.43 L747.26,713.09 L748.16,712.75 L749.06,712.43 L749.97,712.11 L750.87,711.80 L751.78,711.50 L752.70,711.20 L753.61,710.92 L754.53,710.65 L755.45,710.39 L756.38,710.13 L757.31,709.89 L758.24,709.65 L759.18,709.43 L760.12,709.21 L761.06,709.01 L762.01,708.81 L762.96,708.62 L763.92,708.45 L764.88,708.28 L765.84,708.12 L766.81,707.97 L767.78,707.83 L768.76,707.71 L769.74,707.58 L770.72,707.47 L771.71,707.36 L772.70,707.26 L773.69,707.15 L774.68,707.05 L775.67,706.94 L776.67,706.82 L777.66,706.70 L778.65,706.57 L779.63,706.43 L780.62,706.28 L781.60,706.11 L782.58,705.93 L783.55,705.72 L784.52,705.50 L785.48,705.25 L786.43,704.98 L787.38,704.69 L788.32,704.37 L789.25,704.02 L790.16,703.65 L791.05,703.25 L791.93,702.83 L792.80,702.38 L793.64,701.90 L794.45,701.40 L795.25,700.87 L796.01,700.32 L796.75,699.74 L797.46,699.13 L798.13,698.50 L798.78,697.84 L799.38,697.15 L799.95,696.44 L800.48,695.70 L800.97,694.94 L801.42,694.15 L801.84,693.34 L802.22,692.50 L802.57,691.65 L802.90,690.78 L803.19,689.89 L803.46,688.99 L803.71,688.07 L803.94,687.14" stroke="#0000ff" stroke-width="1.55" fill="none" stroke-dasharray="9.5 7.8" stroke-dashoffset="1.6"/><path d="M611.39,492.08 L611.51,493.03 L611.63,493.99 L611.75,494.95 L611.87,495.90 L611.99,496.86 L612.11,497.82 L612.23,498.78 L612.35,499.74 L612.47,500.69 L612.59,501.65 L612.72,502.61 L612.84,503.57 L612.96,504.53 L613.08,505.49 L613.20,506.45 L613.32,507.41 L613.45,508.37 L613.57,509.33 L613.69,510.29 L613.81,511.25 L613.94,512.21 L614.06,513.17 L614.18,514.13 L614.31,515.09 L614.43,516.05 L614.56,517.02 L614.68,517.98 L614.81,518.94 L614.93,519.90 L615.06,520.86 L615.18,521.82 L615.31,522.79 L615.44,523.75 L615.57,524.71 L615.69,525.67 L615.82,526.64 L615.95,527.60 L616.08,528.56 L616.21,529.52 L616.34,530.49 L616.47,531.45 L616.60,532.41 L616.73,533.37 L616.86,534.34 L616.99,535.30 L617.12,536.26 L617.25,537.23 L617.39,538.19 L617.52,539.15 L617.65,540.12 L617.79,541.08 L617.92,542.04 L618.06,543.00 L618.19,543.97 L618.33,544.93 L618.47,545.89 L618.61,546.86 L618.74,547.82 L618.88,548.78 L619.02,549.75 L619.16,550.71 L619.30,551.67 L619.44,552.64 L619.59,553.60 L619.73,554.56 L619.87,555.52 L620.01,556.49 L620.16,557.45 L620.30,558.41 L620.45,559.37 L620.60,560.34 L620.74,561.30 L620.89,562.26 L621.04,563.22 L621.19,564.19 L621.34,565.15 L621.49,566.11 L621.64,567.07 L621.79,568.03 L621.94,569.00 L622.10,569.96 L622.25,570.92 L622.41,571.88 L622.56,572.84 L622.72,573.80 L622.88,574.76 L623.03,575.72 L623.19,576.68 L623.35,577.64 L623.51,578.60 L623.68,579.56 L623.84,580.52 L624.00,581.48 L624.17,582.44 L624.33,583.40 L624.50,584.36 L624.66,585.32 L624.83,586.28 L625.00,587.23 L625.17,588.19 L625.34,589.15 L625.51,590.11 L625.68,591.07 L625.86,592.02 L626.03,592.98 L626.21,593.94 L626.38,594.89 L626.56,595.85 L626.74,596.81 L626.92,597.76 L627.10,598.72 L627.28,599.67 L627.46,600.63 L627.65,601.58 L627.83,602.54 L628.02,603.49 L628.21,604.44 L628.39,605.40 L628.58,606.35 L628.77,607.30 L628.96,608.26 L629.16,609.21 L629.35,610.16 L629.54,611.11 L629.74,612.06 L629.94,613.01 L630.13,613.96 L630.33,614.91 L630.53,615.86 L630.74,616.81 L630.94,617.76 L631.14,618.71 L631.35,619.66 L631.55,620.61 L631.76,621.55 L631.97,622.50 L632.18,623.45 L632.39,624.40 L632.61,625.34 L632.82,626.29 L633.03,627.23 L633.25,628.18 L633.47,629.12 L633.69,630.07 L633.91,631.01 L634.13,631.95 L634.35,632.89 L634.58,633.84 L634.80,634.78 L635.03,635.72 L635.26,636.66 L635.49,637.60 L635.72,638.54 L635.96,639.48 L636.19,640.42 L636.43,641.36 L636.66,642.30 L636.90,643.23 L637.14,644.17 L637.38,645.11 L637.63,646.04 L637.87,646.98 L638.12,647.91 L638.36,648.85 L638.61,649.78 L638.86,650.72 L639.11,651.65 L639.37,652.58 L639.62,653.51 L639.88,654.44 L640.14,655.37 L640.40,656.30 L640.66,657.23 L640.92,658.16 L641.19,659.09 L641.45,660.02 L641.72,660.95 L641.99,661.87 L642.27,662.80 L642.54,663.72 L642.82,664.65 L643.10,665.57 L643.39,666.49 L643.67,667.42 L643.96,668.34 L644.26,669.26 L644.55,670.18 L644.85,671.09 L645.16,672.01 L645.46,672.93 L645.77,673.84 L646.09,674.76 L646.41,675.67 L646.73,676.58 L647.05,677.49 L647.39,678.40 L647.72,679.31 L648.06,680.22 L648.40,681.12 L648.75,682.03 L649.11,682.93 L649.47,683.84 L649.83,684.74 L650.20,685.64 L650.57,686.54 L650.95,687.43 L651.34,688.33 L651.73,689.22 L652.13,690.12 L652.53,691.01 L652.94,691.90 L653.35,692.79 L653.77,693.67 L654.20,694.56 L654.64,695.44 L655.08,696.33 L655.52,697.21 L655.98,698.08 L656.44,698.96 L656.91,699.84 L657.38,700.71 L657.86,701.58 L658.35,702.45 L658.85,703.32 L659.35,704.19 L659.87,705.05 L660.39,705.92 L660.91,706.78 L661.45,707.63 L662.00,708.48 L662.55,709.32 L663.11,710.16 L663.68,710.99 L664.27,711.80 L664.86,712.61 L665.46,713.41 L666.07,714.20 L666.69,714.97 L667.32,715.74 L667.96,716.48 L668.61,717.22 L669.27,717.93 L669.95,718.63 L670.63,719.32 L671.33,719.98 L672.03,720.63 L672.75,721.25 L673.49,721.85 L674.23,722.44 L674.99,722.99 L675.76,723.53 L676.54,724.04 L677.33,724.52 L678.14,724.98 L678.96,725.42 L679.80,725.82 L680.64,726.20 L681.50,726.56 L682.37,726.89 L683.25,727.19 L684.13,727.47 L685.03,727.73 L685.94,727.96 L686.86,728.18 L687.78,728.36 L688.71,728.53 L689.65,728.68 L690.60,728.80 L691.55,728.90 L692.50,728.98 L693.47,729.05 L694.43,729.09 L695.40,729.11 L696.38,729.12 L697.35,729.10 L698.33,729.07 L699.31,729.02 L700.29,728.96 L701.28,728.87 L702.26,728.77 L703.24,728.66 L704.23,728.52 L705.21,728.38 L706.19,728.22 L707.17,728.04 L708.14,727.85 L709.12,727.65 L710.08,727.43 L711.05,727.20 L712.01,726.96 L712.96,726.71 L713.91,726.44 L714.86,726.17 L715.80,725.88 L716.74,725.58 L717.67,725.28 L718.60,724.96 L719.52,724.64 L720.44,724.31 L721.36,723.97 L722.27,723.62 L723.18,723.27 L724.09,722.91 L724.99,722.55 L725.89,722.18 L726.79,721.81 L727.69,721.43 L728.58,721.05 L729.48,720.66 L730.37,720.28 L731.26,719.89 L732.15,719.50 L733.04,719.11 L733.93,718.71 L734.81,718.32 L735.70,717.93 L736.58,717.54 L737.47,717.15 L738.36,716.76 L739.24,716.38 L740.13,715.99 L741.02,715.61 L741.90,715.24 L742.79,714.87 L743.68,714.50 L744.57,714.14 L745.47,713.78 L746.36,713.43 L747.26,713.09 L748.16,712.75 L749.06,712.43 L749.97,712.11 L750.87,711.80 L751.78,711.50 L752.70,711.20 L753.61,710.92 L754.53,710.65 L755.45,710.39 L756.38,710.13 L757.31,709.89 L758.24,709.65 L759.18,709.43 L760.12,709.21 L761.06,709.01 L762.01,708.81 L762.96,708.62 L763.92,708.45 L764.88,708.28 L765.84,708.12 L766.81,707.97 L767.78,707.83 L768.76,707.71 L769.74,707.58 L770.72,707.47 L771.71,707.36 L772.70,707.26 L773.69,707.15 L774.68,707.05 L775.67,706.94 L776.67,706.82 L777.66,706.70 L778.65,706.57 L779.63,706.43 L780.62,706.28 L781.60,706.11 L782.58,705.93 L783.55,705.72 L784.52,705.50 L785.48,705.25 L786.43,704.98 L787.38,704.69 L788.32,704.37 L789.25,704.02 L790.16,703.65 L791.05,703.25 L791.93,702.83 L792.80,702.38 L793.64,701.90 L794.45,701.40 L795.25,700.87 L796.01,700.32 L796.75,699.74 L797.46,699.13 L798.13,698.50 L798.78,697.84 L799.38,697.15 L799.95,696.44 L800.48,695.70 L800.97,694.94 L801.42,694.15 L801.84,693.34 L802.22,692.50 L802.57,691.65 L802.90,690.78 L803.19,689.89 L803.46,688.99 L803.71,688.07 L803.94,687.14" stroke="#0000ff" stroke-width="3.0" fill="none" stroke-linecap="round" stroke-dasharray="0.01 17.29" stroke-dashoffset="-11.8"/><path d="M803.94,687.14 L804.15,686.19 L804.35,685.24 L804.53,684.28 L804.70,683.31 L804.86,682.34 L805.01,681.37 L805.16,680.39 L805.30,679.41 L805.44,678.43 L805.58,677.46 L805.72,676.48 L805.86,675.50 L805.99,674.53 L806.12,673.55 L806.25,672.57 L806.38,671.60 L806.51,670.62 L806.63,669.64 L806.75,668.67 L806.87,667.69 L806.99,666.72 L807.11,665.74 L807.22,664.76 L807.34,663.79 L807.45,662.81 L807.56,661.84 L807.67,660.86 L807.77,659.89 L807.88,658.92 L807.98,657.94 L808.08,656.97 L808.18,655.99 L808.28,655.02 L808.38,654.05 L808.47,653.07 L808.57,652.10 L808.66,651.13 L808.75,650.15 L808.84,649.18 L808.92,648.21 L809.01,647.23 L809.09,646.26 L809.18,645.29 L809.26,644.32 L809.34,643.34 L809.42,642.37 L809.49,641.40 L809.57,640.43 L809.64,639.46 L809.72,638.49 L809.79,637.51 L809.86,636.54 L809.93,635.57 L810.00,634.60 L810.06,633.63 L810.13,632.66 L810.19,631.69 L810.26,630.72 L810.32,629.75 L810.38,628.78 L810.44,627.80 L810.50,626.83 L810.55,625.86 L810.61,624.89 L810.67,623.92 L810.72,622.95 L810.77,621.98 L810.82,621.01 L810.87,620.04 L810.92,619.07 L810.97,618.10 L811.02,617.13 L811.07,616.17 L811.11,615.20 L811.16,614.23 L811.20,613.26 L811.25,612.29 L811.29,611.32 L811.33,610.35 L811.37,609.38 L811.41,608.41 L811.45,607.44 L811.49,606.47 L811.53,605.50 L811.56,604.54 L811.60,603.57 L811.63,602.60 L811.67,601.63 L811.70,600.66 L811.73,599.69 L811.77,598.72 L811.80,597.75 L811.83,596.79 L811.86,595.82 L811.89,594.85 L811.92,593.88 L811.95,592.91 L811.98,591.94 L812.00,590.98 L812.03,590.01 L812.06,589.04 L812.08,588.07 L812.11,587.10 L812.13,586.13 L812.16,585.17 L812.18,584.20 L812.21,583.23 L812.23,582.26 L812.25,581.29 L812.28,580.32 L812.30,579.36 L812.32,578.39 L812.34,577.42 L812.37,576.45 L812.39,575.48 L812.41,574.51 L812.43,573.54 L812.45,572.58 L812.47,571.61 L812.49,570.64 L812.51,569.67 L812.53,568.70 L812.55,567.73 L812.57,566.77 L812.59,565.80 L812.61,564.83 L812.63,563.86 L812.65,562.89 L812.67,561.92 L812.69,560.95 L812.71,559.98 L812.73,559.02 L812.74,558.05 L812.76,557.08 L812.78,556.11 L812.80,555.14 L812.82,554.17 L812.84,553.20 L812.86,552.23 L812.88,551.26 L812.90,550.29 L812.92,549.32 L812.94,548.36 L812.96,547.39 L812.98,546.42 L813.01,545.45 L813.03,544.48 L813.05,543.51 L813.07,542.54 L813.09,541.57 L813.12,540.60 L813.14,539.63 L813.16,538.66 L813.19,537.69 L813.21,536.72 L813.23,535.75 L813.26,534.77 L813.28,533.80 L813.31,532.83 L813.34,531.86 L813.36,530.89 L813.39,529.92 L813.42,528.95 L813.45,527.98 L813.48,527.01 L813.51,526.04 L813.54,525.06 L813.57,524.09 L813.60,523.12 L813.63,522.15 L813.66,521.18 L813.69,520.20 L813.73,519.23 L813.76,518.26 L813.80,517.29 L813.83,516.31 L813.87,515.34 L813.91,514.37 L813.95,513.40 L813.99,512.42 L814.03,511.45 L814.07,510.48 L814.11,509.50 L814.15,508.53 L814.19,507.55 L814.24,506.58 L814.28,505.61 L814.33,504.63 L814.38,503.66 L814.42,502.68 L814.47,501.71 L814.52,500.73 L814.57,499.76 L814.63,498.78 L814.68,497.81 L814.73,496.83 L814.79,495.86 L814.85,494.88 L814.90,493.90 L814.96,492.93 L815.02,491.95" stroke="#0000ff" stroke-width="1.55" fill="none" stroke-dasharray="9.5 7.8" stroke-dashoffset="4.22"/><path d="M803.94,687.14 L804.15,686.19 L804.35,685.24 L804.53,684.28 L804.70,683.31 L804.86,682.34 L805.01,681.37 L805.16,680.39 L805.30,679.41 L805.44,678.43 L805.58,677.46 L805.72,676.48 L805.86,675.50 L805.99,674.53 L806.12,673.55 L806.25,672.57 L806.38,671.60 L806.51,670.62 L806.63,669.64 L806.75,668.67 L806.87,667.69 L806.99,666.72 L807.11,665.74 L807.22,664.76 L807.34,663.79 L807.45,662.81 L807.56,661.84 L807.67,660.86 L807.77,659.89 L807.88,658.92 L807.98,657.94 L808.08,656.97 L808.18,655.99 L808.28,655.02 L808.38,654.05 L808.47,653.07 L808.57,652.10 L808.66,651.13 L808.75,650.15 L808.84,649.18 L808.92,648.21 L809.01,647.23 L809.09,646.26 L809.18,645.29 L809.26,644.32 L809.34,643.34 L809.42,642.37 L809.49,641.40 L809.57,640.43 L809.64,639.46 L809.72,638.49 L809.79,637.51 L809.86,636.54 L809.93,635.57 L810.00,634.60 L810.06,633.63 L810.13,632.66 L810.19,631.69 L810.26,630.72 L810.32,629.75 L810.38,628.78 L810.44,627.80 L810.50,626.83 L810.55,625.86 L810.61,624.89 L810.67,623.92 L810.72,622.95 L810.77,621.98 L810.82,621.01 L810.87,620.04 L810.92,619.07 L810.97,618.10 L811.02,617.13 L811.07,616.17 L811.11,615.20 L811.16,614.23 L811.20,613.26 L811.25,612.29 L811.29,611.32 L811.33,610.35 L811.37,609.38 L811.41,608.41 L811.45,607.44 L811.49,606.47 L811.53,605.50 L811.56,604.54 L811.60,603.57 L811.63,602.60 L811.67,601.63 L811.70,600.66 L811.73,599.69 L811.77,598.72 L811.80,597.75 L811.83,596.79 L811.86,595.82 L811.89,594.85 L811.92,593.88 L811.95,592.91 L811.98,591.94 L812.00,590.98 L812.03,590.01 L812.06,589.04 L812.08,588.07 L812.11,587.10 L812.13,586.13 L812.16,585.17 L812.18,584.20 L812.21,583.23 L812.23,582.26 L812.25,581.29 L812.28,580.32 L812.30,579.36 L812.32,578.39 L812.34,577.42 L812.37,576.45 L812.39,575.48 L812.41,574.51 L812.43,573.54 L812.45,572.58 L812.47,571.61 L812.49,570.64 L812.51,569.67 L812.53,568.70 L812.55,567.73 L812.57,566.77 L812.59,565.80 L812.61,564.83 L812.63,563.86 L812.65,562.89 L812.67,561.92 L812.69,560.95 L812.71,559.98 L812.73,559.02 L812.74,558.05 L812.76,557.08 L812.78,556.11 L812.80,555.14 L812.82,554.17 L812.84,553.20 L812.86,552.23 L812.88,551.26 L812.90,550.29 L812.92,549.32 L812.94,548.36 L812.96,547.39 L812.98,546.42 L813.01,545.45 L813.03,544.48 L813.05,543.51 L813.07,542.54 L813.09,541.57 L813.12,540.60 L813.14,539.63 L813.16,538.66 L813.19,537.69 L813.21,536.72 L813.23,535.75 L813.26,534.77 L813.28,533.80 L813.31,532.83 L813.34,531.86 L813.36,530.89 L813.39,529.92 L813.42,528.95 L813.45,527.98 L813.48,527.01 L813.51,526.04 L813.54,525.06 L813.57,524.09 L813.60,523.12 L813.63,522.15 L813.66,521.18 L813.69,520.20 L813.73,519.23 L813.76,518.26 L813.80,517.29 L813.83,516.31 L813.87,515.34 L813.91,514.37 L813.95,513.40 L813.99,512.42 L814.03,511.45 L814.07,510.48 L814.11,509.50 L814.15,508.53 L814.19,507.55 L814.24,506.58 L814.28,505.61 L814.33,504.63 L814.38,503.66 L814.42,502.68 L814.47,501.71 L814.52,500.73 L814.57,499.76 L814.63,498.78 L814.68,497.81 L814.73,496.83 L814.79,495.86 L814.85,494.88 L814.90,493.90 L814.96,492.93 L815.02,491.95" stroke="#0000ff" stroke-width="3.0" fill="none" stroke-linecap="round" stroke-dasharray="0.01 17.29" stroke-dashoffset="-9.18"/><path d="M469.97,772.05 L470.24,773.15 L470.50,774.24 L470.77,775.33 L471.04,776.41 L471.31,777.48 L471.58,778.55 L471.86,779.62 L472.13,780.68 L472.41,781.73 L472.69,782.78 L472.97,783.83 L473.26,784.88 L473.54,785.92 L473.83,786.95 L474.12,787.99 L474.42,789.02 L474.71,790.04 L475.01,791.07 L475.32,792.09 L475.62,793.11 L475.93,794.13 L476.24,795.14 L476.56,796.15 L476.88,797.17 L477.20,798.18 L477.52,799.18 L477.85,800.19 L478.18,801.20 L478.52,802.21 L478.86,803.21 L479.20,804.22 L479.55,805.22 L479.91,806.23 L480.26,807.23 L480.62,808.24 L480.99,809.25 L481.36,810.25 L481.73,811.26 L482.11,812.27 L482.50,813.28 L482.89,814.30 L483.28,815.31 L483.68,816.33 L484.09,817.35 L484.50,818.37 L484.91,819.39 L485.33,820.42 L485.76,821.44 L486.19,822.47 L486.63,823.50 L487.08,824.53 L487.53,825.55 L488.00,826.57 L488.47,827.59 L488.96,828.60 L489.45,829.61 L489.95,830.61 L490.47,831.60 L491.00,832.58 L491.53,833.55 L492.09,834.50 L492.65,835.45 L493.23,836.38 L493.82,837.30 L494.43,838.21 L495.06,839.10 L495.70,839.97 L496.35,840.82 L497.02,841.65 L497.71,842.46 L498.42,843.25 L499.15,844.02 L499.90,844.77 L500.66,845.49 L501.45,846.18 L502.25,846.85 L503.08,847.50 L503.93,848.11 L504.80,848.69 L505.69,849.25 L506.61,849.77 L507.55,850.26 L508.52,850.72 L509.51,851.14 L510.52,851.53 L511.55,851.88 L512.60,852.19 L513.66,852.45 L514.74,852.67 L515.82,852.84 L516.91,852.97 L517.99,853.04 L519.08,853.05 L520.16,853.01 L521.23,852.91 L522.29,852.75 L523.34,852.53 L524.37,852.24 L525.38,851.88 L526.37,851.46 L527.34,850.98 L528.29,850.45 L529.23,849.88 L530.15,849.28 L531.06,848.64 L531.95,847.98 L532.84,847.30 L533.71,846.62 L534.58,845.92 L535.43,845.23 L536.28,844.52 L537.12,843.81 L537.96,843.09 L538.78,842.37 L539.60,841.65 L540.41,840.91 L541.21,840.17 L542.01,839.43 L542.80,838.68 L543.58,837.93 L544.36,837.17 L545.13,836.41 L545.89,835.65 L546.65,834.88 L547.41,834.10 L548.16,833.32 L548.90,832.54 L549.64,831.75 L550.37,830.96 L551.10,830.17 L551.83,829.37 L552.55,828.57 L553.27,827.77 L553.98,826.96 L554.69,826.15 L555.40,825.34 L556.10,824.53 L556.80,823.71 L557.50,822.89 L558.20,822.07 L558.89,821.24 L559.59,820.42 L560.28,819.59 L560.96,818.76 L561.65,817.92 L562.33,817.09 L563.02,816.25 L563.70,815.42 L564.38,814.58 L565.05,813.73 L565.73,812.89 L566.40,812.05 L567.08,811.20 L567.75,810.36 L568.42,809.51 L569.09,808.66 L569.76,807.81 L570.42,806.96 L571.09,806.10 L571.76,805.25 L572.42,804.40 L573.09,803.54 L573.75,802.69 L574.41,801.83 L575.08,800.98 L575.74,800.12 L576.40,799.26 L577.07,798.41 L577.73,797.55 L578.39,796.69 L579.06,795.84 L579.72,794.98 L580.38,794.12 L581.05,793.27 L581.71,792.41 L582.38,791.55 L583.04,790.70 L583.71,789.84 L584.37,788.99 L585.04,788.13 L585.71,787.28 L586.38,786.43 L587.05,785.58 L587.72,784.73 L588.40,783.88 L589.07,783.03 L589.75,782.18 L590.43,781.34 L591.11,780.49 L591.79,779.65 L592.47,778.81 L593.16,777.97 L593.84,777.13 L594.53,776.29 L595.22,775.46 L595.91,774.62 L596.61,773.79 L597.31,772.96 L598.01,772.14 L598.71,771.31 L599.42,770.49 L600.12,769.67 L600.83,768.85 L601.55,768.03 L602.26,767.22 L602.98,766.41 L603.70,765.60 L604.43,764.80 L605.16,764.00 L605.89,763.20 L606.63,762.40 L607.36,761.61 L608.11,760.82 L608.85,760.03 L609.60,759.25 L610.36,758.47 L611.11,757.69 L611.88,756.92 L612.64,756.15 L613.41,755.38 L614.18,754.62 L614.96,753.86 L615.74,753.10 L616.53,752.35 L617.32,751.61 L618.12,750.86 L618.91,750.13 L619.72,749.39 L620.52,748.66 L621.34,747.94 L622.15,747.21 L622.97,746.50 L623.79,745.78 L624.62,745.08 L625.45,744.37 L626.29,743.68 L627.13,742.98 L627.97,742.29 L628.82,741.61 L629.67,740.93 L630.52,740.26 L631.38,739.59 L632.24,738.93 L633.11,738.27 L633.98,737.62 L634.85,736.97 L635.73,736.33 L636.61,735.69 L637.49,735.06 L638.38,734.44 L639.27,733.82 L640.17,733.20 L641.07,732.60 L641.97,731.99 L642.87,731.40 L643.78,730.81 L644.70,730.23 L645.61,729.65 L646.53,729.08 L647.45,728.52 L648.38,727.96 L649.31,727.41 L650.24,726.86 L651.18,726.33 L652.12,725.79 L653.06,725.27 L654.01,724.75 L654.96,724.24 L655.91,723.74 L656.87,723.24 L657.83,722.75 L658.79,722.27 L659.76,721.80 L660.73,721.33 L661.70,720.87 L662.67,720.42 L663.65,719.97 L664.63,719.53 L665.62,719.11 L666.61,718.68 L667.60,718.27 L668.59,717.86 L669.59,717.46 L670.58,717.07 L671.59,716.69 L672.59,716.32 L673.60,715.95 L674.61,715.59 L675.62,715.25 L676.64,714.90 L677.66,714.57 L678.68,714.25 L679.70,713.93 L680.73,713.63 L681.76,713.33 L682.79,713.04 L683.83,712.76 L684.87,712.49 L685.91,712.23 L686.95,711.98 L687.99,711.73 L689.04,711.50 L690.09,711.27 L691.15,711.06 L692.20,710.85 L693.26,710.65 L694.32,710.47 L695.38,710.29 L696.45,710.11 L697.51,709.95 L698.58,709.79 L699.65,709.65 L700.72,709.51 L701.80,709.37 L702.87,709.25 L703.95,709.13 L705.03,709.02 L706.11,708.91 L707.19,708.81 L708.28,708.72 L709.36,708.64 L710.45,708.56 L711.54,708.48 L712.62,708.41 L713.71,708.35 L714.81,708.29 L715.90,708.24 L716.99,708.19 L718.08,708.15 L719.18,708.11 L720.27,708.07 L721.37,708.04 L722.47,708.02 L723.56,707.99 L724.66,707.97 L725.76,707.95 L726.86,707.94 L727.96,707.93 L729.05,707.92 L730.15,707.92 L731.25,707.91 L732.35,707.91 L733.45,707.91 L734.55,707.92 L735.65,707.92 L736.74,707.93 L737.84,707.94 L738.94,707.94 L740.04,707.95 L741.13,707.96 L742.23,707.97 L743.32,707.98 L744.42,707.99 L745.51,708.00 L746.61,708.01 L747.70,708.02 L748.79,708.03 L749.88,708.04 L750.97,708.05 L752.05,708.05 L753.14,708.06 L754.23,708.06 L755.31,708.06 L756.39,708.06 L757.47,708.06 L758.55,708.05 L759.63,708.05 L760.70,708.04 L761.78,708.02 L762.85,708.01 L763.92,707.99 L764.99,707.96 L766.06,707.93 L767.12,707.90 L768.19,707.87 L769.25,707.83 L770.31,707.78 L771.38,707.73 L772.44,707.67 L773.50,707.61 L774.56,707.54 L775.63,707.46 L776.69,707.37 L777.76,707.28 L778.82,707.18 L779.89,707.07 L780.96,706.95 L782.03,706.83 L783.11,706.69 L784.19,706.55 L785.26,706.39 L786.35,706.23 L787.43,706.05 L788.52,705.86 L789.61,705.66 L790.69,705.43 L791.74,705.15 L792.77,704.83 L793.77,704.45 L794.72,703.99 L795.62,703.46 L796.47,702.86 L797.26,702.20 L798.01,701.47 L798.70,700.69 L799.33,699.85 L799.91,698.96 L800.43,698.02 L800.89,697.04 L801.32,696.03 L801.71,694.99 L802.07,693.94 L802.40,692.88 L802.73,691.81 L803.03,690.75 L803.33,689.68 L803.61,688.62 L803.88,687.55" stroke="#ff0000" stroke-width="2" fill="none" stroke-dasharray="8.7 8.75" stroke-dashoffset="5.0"/><path d="M803.88,687.55 L804.14,686.48 L804.38,685.42 L804.62,684.35 L804.84,683.28 L805.05,682.21 L805.26,681.14 L805.45,680.07 L805.63,679.00 L805.81,677.93 L805.98,676.86 L806.14,675.79 L806.29,674.72 L806.44,673.65 L806.58,672.58 L806.71,671.51 L806.84,670.43 L806.97,669.36 L807.08,668.29 L807.20,667.21 L807.31,666.14 L807.42,665.07 L807.52,663.99 L807.63,662.92 L807.73,661.84 L807.83,660.77 L807.92,659.69 L808.02,658.62 L808.11,657.54 L808.21,656.46 L808.30,655.39 L808.39,654.31 L808.48,653.23 L808.56,652.16 L808.65,651.08 L808.73,650.00 L808.82,648.92 L808.90,647.84 L808.98,646.76 L809.06,645.69 L809.14,644.61 L809.21,643.53 L809.29,642.45 L809.36,641.37 L809.44,640.29 L809.51,639.21 L809.58,638.13 L809.65,637.05 L809.72,635.97 L809.79,634.89 L809.85,633.80 L809.92,632.72 L809.98,631.64 L810.05,630.56 L810.11,629.48 L810.17,628.40 L810.23,627.32 L810.29,626.23 L810.35,625.15 L810.40,624.07 L810.46,622.99 L810.52,621.90 L810.57,620.82 L810.63,619.74 L810.68,618.66 L810.73,617.57 L810.78,616.49 L810.83,615.41 L810.88,614.33 L810.93,613.24 L810.98,612.16 L811.03,611.08 L811.08,609.99 L811.12,608.91 L811.17,607.83 L811.22,606.74 L811.26,605.66 L811.30,604.58 L811.35,603.49 L811.39,602.41 L811.43,601.33 L811.48,600.25 L811.52,599.16 L811.56,598.08 L811.60,597.00 L811.64,595.91 L811.68,594.83 L811.72,593.75 L811.76,592.66 L811.80,591.58 L811.83,590.50 L811.87,589.42 L811.91,588.33 L811.95,587.25 L811.98,586.17 L812.02,585.08 L812.05,584.00 L812.09,582.92 L812.13,581.84 L812.16,580.75 L812.20,579.67 L812.23,578.59 L812.26,577.51 L812.30,576.42 L812.33,575.34 L812.37,574.26 L812.40,573.18 L812.43,572.10 L812.46,571.01 L812.50,569.93 L812.53,568.85 L812.56,567.77 L812.59,566.68 L812.62,565.60 L812.66,564.52 L812.69,563.44 L812.72,562.36 L812.75,561.27 L812.78,560.19 L812.81,559.11 L812.84,558.03 L812.87,556.95 L812.90,555.86 L812.93,554.78 L812.96,553.70 L812.99,552.62 L813.02,551.54 L813.05,550.45 L813.08,549.37 L813.11,548.29 L813.14,547.21 L813.17,546.12 L813.20,545.04 L813.23,543.96 L813.26,542.88 L813.29,541.80 L813.32,540.71 L813.35,539.63 L813.38,538.55 L813.41,537.47 L813.44,536.39 L813.47,535.30 L813.50,534.22 L813.53,533.14 L813.56,532.06 L813.59,530.98 L813.62,529.89 L813.65,528.81 L813.69,527.73 L813.72,526.65 L813.75,525.56 L813.78,524.48 L813.81,523.40 L813.84,522.32 L813.87,521.23 L813.90,520.15 L813.94,519.07 L813.97,517.99 L814.00,516.90 L814.03,515.82 L814.07,514.74 L814.10,513.66 L814.13,512.57 L814.17,511.49 L814.20,510.41 L814.24,509.33 L814.27,508.24 L814.30,507.16 L814.34,506.08 L814.37,504.99 L814.41,503.91 L814.45,502.83 L814.48,501.75 L814.52,500.66 L814.56,499.58 L814.59,498.50 L814.63,497.41 L814.67,496.33 L814.71,495.25 L814.75,494.16 L814.79,493.08 L814.83,492.00" stroke="#ff0000" stroke-width="2" fill="none" stroke-dasharray="8.7 8.75" stroke-dashoffset="4.79"/></g><rect x="469.65" y="506.0" width="352.10" height="528.35" fill="none" stroke="#000" stroke-width="1.3"/><path d="M487.32,506.0 v6.0 M487.32,1034.35 v-6.0 M497.65,506.0 v6.0 M497.65,1034.35 v-6.0 M504.98,506.0 v6.0 M504.98,1034.35 v-6.0 M510.67,506.0 v6.0 M510.67,1034.35 v-6.0 M515.31,506.0 v6.0 M515.31,1034.35 v-6.0 M519.24,506.0 v6.0 M519.24,1034.35 v-6.0 M522.65,506.0 v6.0 M522.65,1034.35 v-6.0 M525.65,506.0 v6.0 M525.65,1034.35 v-6.0 M528.33,506.0 v11.8 M528.33,1034.35 v-11.8 M546.00,506.0 v6.0 M546.00,1034.35 v-6.0 M556.33,506.0 v6.0 M556.33,1034.35 v-6.0 M563.66,506.0 v6.0 M563.66,1034.35 v-6.0 M569.35,506.0 v6.0 M569.35,1034.35 v-6.0 M574.00,506.0 v6.0 M574.00,1034.35 v-6.0 M577.93,506.0 v6.0 M577.93,1034.35 v-6.0 M581.33,506.0 v6.0 M581.33,1034.35 v-6.0 M584.33,506.0 v6.0 M584.33,1034.35 v-6.0 M587.02,506.0 v11.8 M587.02,1034.35 v-11.8 M604.68,506.0 v6.0 M604.68,1034.35 v-6.0 M615.02,506.0 v6.0 M615.02,1034.35 v-6.0 M622.35,506.0 v6.0 M622.35,1034.35 v-6.0 M628.03,506.0 v6.0 M628.03,1034.35 v-6.0 M632.68,506.0 v6.0 M632.68,1034.35 v-6.0 M636.61,506.0 v6.0 M636.61,1034.35 v-6.0 M640.01,506.0 v6.0 M640.01,1034.35 v-6.0 M643.01,506.0 v6.0 M643.01,1034.35 v-6.0 M645.70,506.0 v11.8 M645.70,1034.35 v-11.8 M663.37,506.0 v6.0 M663.37,1034.35 v-6.0 M673.70,506.0 v6.0 M673.70,1034.35 v-6.0 M681.03,506.0 v6.0 M681.03,1034.35 v-6.0 M686.72,506.0 v6.0 M686.72,1034.35 v-6.0 M691.36,506.0 v6.0 M691.36,1034.35 v-6.0 M695.29,506.0 v6.0 M695.29,1034.35 v-6.0 M698.70,506.0 v6.0 M698.70,1034.35 v-6.0 M701.70,506.0 v6.0 M701.70,1034.35 v-6.0 M704.38,506.0 v11.8 M704.38,1034.35 v-11.8 M722.05,506.0 v6.0 M722.05,1034.35 v-6.0 M732.38,506.0 v6.0 M732.38,1034.35 v-6.0 M739.71,506.0 v6.0 M739.71,1034.35 v-6.0 M745.40,506.0 v6.0 M745.40,1034.35 v-6.0 M750.05,506.0 v6.0 M750.05,1034.35 v-6.0 M753.98,506.0 v6.0 M753.98,1034.35 v-6.0 M757.38,506.0 v6.0 M757.38,1034.35 v-6.0 M760.38,506.0 v6.0 M760.38,1034.35 v-6.0 M763.07,506.0 v11.8 M763.07,1034.35 v-11.8 M780.73,506.0 v6.0 M780.73,1034.35 v-6.0 M791.07,506.0 v6.0 M791.07,1034.35 v-6.0 M798.40,506.0 v6.0 M798.40,1034.35 v-6.0 M804.08,506.0 v6.0 M804.08,1034.35 v-6.0 M808.73,506.0 v6.0 M808.73,1034.35 v-6.0 M812.66,506.0 v6.0 M812.66,1034.35 v-6.0 M816.06,506.0 v6.0 M816.06,1034.35 v-6.0 M819.06,506.0 v6.0 M819.06,1034.35 v-6.0 M469.65,1021.14 h6.0 M821.75,1021.14 h-6.0 M469.65,994.72 h6.0 M821.75,994.72 h-6.0 M469.65,968.31 h11.8 M821.75,968.31 h-11.8 M469.65,941.89 h6.0 M821.75,941.89 h-6.0 M469.65,915.47 h6.0 M821.75,915.47 h-6.0 M469.65,889.05 h6.0 M821.75,889.05 h-6.0 M469.65,862.64 h6.0 M821.75,862.64 h-6.0 M469.65,836.22 h11.8 M821.75,836.22 h-11.8 M469.65,809.80 h6.0 M821.75,809.80 h-6.0 M469.65,783.38 h6.0 M821.75,783.38 h-6.0 M469.65,756.97 h6.0 M821.75,756.97 h-6.0 M469.65,730.55 h6.0 M821.75,730.55 h-6.0 M469.65,704.13 h11.8 M821.75,704.13 h-11.8 M469.65,677.71 h6.0 M821.75,677.71 h-6.0 M469.65,651.30 h6.0 M821.75,651.30 h-6.0 M469.65,624.88 h6.0 M821.75,624.88 h-6.0 M469.65,598.46 h6.0 M821.75,598.46 h-6.0 M469.65,572.04 h11.8 M821.75,572.04 h-11.8 M469.65,545.63 h6.0 M821.75,545.63 h-6.0 M469.65,519.21 h6.0 M821.75,519.21 h-6.0" fill="none" stroke="#000" stroke-width="1.3"/><text x="437.15" y="579.39" font-size="21">10</text><text x="447.65" y="711.48" font-size="21">0</text><text x="430.16" y="843.57" font-size="21">-10</text><text x="430.16" y="975.66" font-size="21">-20</text><text x="452.40" y="1068.60" font-size="21">10</text><text x="478.22" y="1055.40" font-size="17">-6</text><text x="569.77" y="1068.60" font-size="21">10</text><text x="595.59" y="1055.40" font-size="17">-4</text><text x="687.14" y="1068.60" font-size="21">10</text><text x="712.95" y="1055.40" font-size="17">-2</text><text x="816.81" y="1068.60" font-size="21">1</text><text x="680.3" y="581.1" font-size="35">c</text><text x="696.5" y="563.7" font-size="24.5">(3)</text><text x="696.8" y="592.5" font-size="24.5">3,a</text><text x="733.0" y="581.1" font-size="35">(x)</text><g transform="translate(634.65,992.00)" fill="#000"><circle r="0.9"/><g transform="rotate(0)"><path d="M-0.3,-0.6 L-1.05,-4.50 A1.1,1.1 0 0 1 1.05,-4.50 L0.3,-0.6 Z"/></g><g transform="rotate(60)"><path d="M-0.3,-0.6 L-1.05,-4.50 A1.1,1.1 0 0 1 1.05,-4.50 L0.3,-0.6 Z"/></g><g transform="rotate(120)"><path d="M-0.3,-0.6 L-1.05,-4.50 A1.1,1.1 0 0 1 1.05,-4.50 L0.3,-0.6 Z"/></g><g transform="rotate(180)"><path d="M-0.3,-0.6 L-1.05,-4.50 A1.1,1.1 0 0 1 1.05,-4.50 L0.3,-0.6 Z"/></g><g transform="rotate(240)"><path d="M-0.3,-0.6 L-1.05,-4.50 A1.1,1.1 0 0 1 1.05,-4.50 L0.3,-0.6 Z"/></g><g transform="rotate(300)"><path d="M-0.3,-0.6 L-1.05,-4.50 A1.1,1.1 0 0 1 1.05,-4.50 L0.3,-0.6 Z"/></g></g><text x="647.00" y="1000.90" font-size="26.2">1/2000,</text><text x="733.60" y="1000.90" font-size="26.2">n</text><text x="746.46" y="1009.30" font-size="17.5">f</text><path d="M759.50,992.00 H773.30" stroke="#000" stroke-width="1.7" fill="none"/><path d="M759.50,997.00 H773.30" stroke="#000" stroke-width="1.7" fill="none"/><text x="780.69" y="1000.90" font-size="26.2">4</text><text x="646.35" y="1092.60" font-size="32">x</text><path d="M670.5,826.9 H716.3" stroke="#0000ff" stroke-width="1.55" fill="none"/><path d="M670.0,818.8 H715.0" stroke="#0000ff" stroke-width="1.55" fill="none" stroke-dasharray="9.5 7.8" stroke-dashoffset="0"/><path d="M670.0,818.8 H715.0" stroke="#0000ff" stroke-width="3.0" fill="none" stroke-linecap="round" stroke-dasharray="0.01 17.29" stroke-dashoffset="-13.4"/><path d="M670.5,870.1 H716.3" stroke="#ff0000" stroke-width="2" fill="none" stroke-dasharray="8.7 8.75"/><text x="730.05" y="829.80" font-size="30" fill="#0000ff">a</text><path d="M751.30,820.10 H767.00" stroke="#0000ff" stroke-width="2.0" fill="none"/><path d="M751.30,825.40 H767.00" stroke="#0000ff" stroke-width="2.0" fill="none"/><path d="M775.15,822.10 H791.25 M783.20,814.05 V830.15" stroke="#0000ff" stroke-width="1.85" fill="none"/><text x="730.05" y="877.70" font-size="30" fill="#ff0000">a</text><path d="M751.30,868.00 H767.00" stroke="#ff0000" stroke-width="2.0" fill="none"/><path d="M751.30,873.40 H767.00" stroke="#ff0000" stroke-width="2.0" fill="none"/><path d="M775.20,869.90 H791.30" stroke="#ff0000" stroke-width="2.0" fill="none"/><text x="541.58" y="619.90" font-size="24.4" fill="#0000ff">with fl</text><text x="605.53" y="628.20" font-size="17.5" fill="#0000ff">02</text><text x="546.83" y="715.60" font-size="25" fill="#0000ff">fl</text><text x="562.23" y="723.00" font-size="17.5" fill="#0000ff">02</text><path d="M586.00,706.70 H599.10" stroke="#0000ff" stroke-width="1.7" fill="none"/><path d="M586.00,711.80 H599.10" stroke="#0000ff" stroke-width="1.7" fill="none"/><text x="605.35" y="715.60" font-size="25" fill="#0000ff">0</text></svg>
</body></html>
